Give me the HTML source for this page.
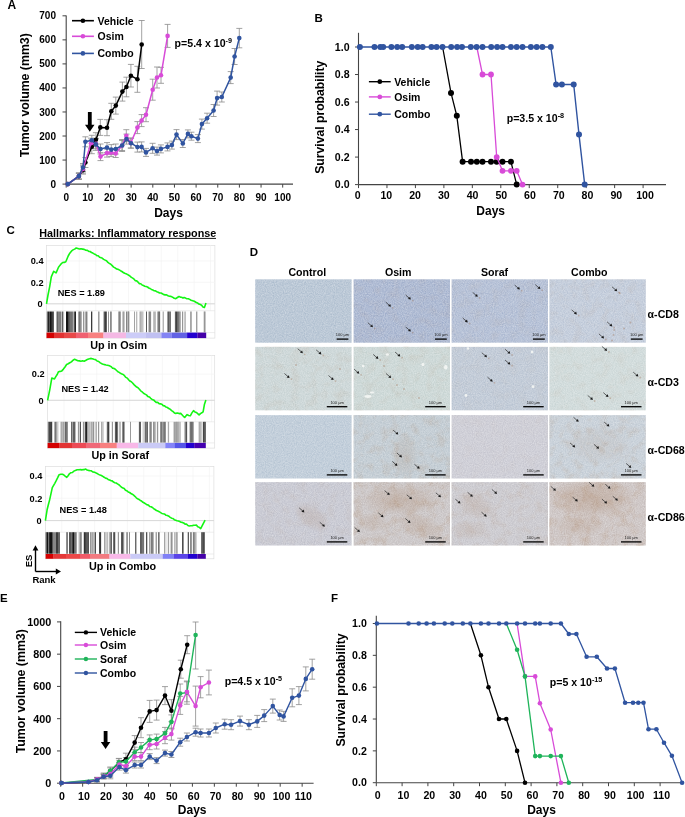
<!DOCTYPE html>
<html><head><meta charset="utf-8"><style>
html,body{margin:0;padding:0;background:#fff;}
svg{display:block;font-family:"Liberation Sans", sans-serif;}
</style></head><body>
<svg width="685" height="817" viewBox="0 0 685 817">
<defs>
<filter id="grain" x="0" y="0" width="100%" height="100%" color-interpolation-filters="sRGB">
<feTurbulence type="fractalNoise" baseFrequency="0.9" numOctaves="2" seed="3"/>
<feColorMatrix type="matrix" values="1 0 0 0 0  1 0 0 0 0  1 0 0 0 0  0 0 0 0 1"/>
</filter>
<filter id="blotch00" x="0" y="0" width="100%" height="100%" color-interpolation-filters="sRGB">
<feTurbulence type="fractalNoise" baseFrequency="0.11" numOctaves="3" seed="7"/>
<feColorMatrix type="matrix" values="0 0 0 0 0.68  0 0 0 0 0.52  0 0 0 0 0.38  1.6 0 0 0 -0.72"/>
</filter>
<filter id="blotch01" x="0" y="0" width="100%" height="100%" color-interpolation-filters="sRGB">
<feTurbulence type="fractalNoise" baseFrequency="0.11" numOctaves="3" seed="8"/>
<feColorMatrix type="matrix" values="0 0 0 0 0.68  0 0 0 0 0.52  0 0 0 0 0.38  1.6 0 0 0 -0.72"/>
</filter>
<filter id="blotch02" x="0" y="0" width="100%" height="100%" color-interpolation-filters="sRGB">
<feTurbulence type="fractalNoise" baseFrequency="0.11" numOctaves="3" seed="9"/>
<feColorMatrix type="matrix" values="0 0 0 0 0.68  0 0 0 0 0.52  0 0 0 0 0.38  1.6 0 0 0 -0.72"/>
</filter>
<filter id="blotch03" x="0" y="0" width="100%" height="100%" color-interpolation-filters="sRGB">
<feTurbulence type="fractalNoise" baseFrequency="0.11" numOctaves="3" seed="10"/>
<feColorMatrix type="matrix" values="0 0 0 0 0.68  0 0 0 0 0.52  0 0 0 0 0.38  1.6 0 0 0 -0.72"/>
</filter>
<filter id="blotch10" x="0" y="0" width="100%" height="100%" color-interpolation-filters="sRGB">
<feTurbulence type="fractalNoise" baseFrequency="0.11" numOctaves="3" seed="11"/>
<feColorMatrix type="matrix" values="0 0 0 0 0.68  0 0 0 0 0.52  0 0 0 0 0.38  1.6 0 0 0 -0.72"/>
</filter>
<filter id="blotch11" x="0" y="0" width="100%" height="100%" color-interpolation-filters="sRGB">
<feTurbulence type="fractalNoise" baseFrequency="0.11" numOctaves="3" seed="12"/>
<feColorMatrix type="matrix" values="0 0 0 0 0.68  0 0 0 0 0.52  0 0 0 0 0.38  1.6 0 0 0 -0.72"/>
</filter>
<filter id="blotch12" x="0" y="0" width="100%" height="100%" color-interpolation-filters="sRGB">
<feTurbulence type="fractalNoise" baseFrequency="0.11" numOctaves="3" seed="13"/>
<feColorMatrix type="matrix" values="0 0 0 0 0.68  0 0 0 0 0.52  0 0 0 0 0.38  1.6 0 0 0 -0.72"/>
</filter>
<filter id="blotch13" x="0" y="0" width="100%" height="100%" color-interpolation-filters="sRGB">
<feTurbulence type="fractalNoise" baseFrequency="0.11" numOctaves="3" seed="14"/>
<feColorMatrix type="matrix" values="0 0 0 0 0.68  0 0 0 0 0.52  0 0 0 0 0.38  1.6 0 0 0 -0.72"/>
</filter>
<filter id="blotch20" x="0" y="0" width="100%" height="100%" color-interpolation-filters="sRGB">
<feTurbulence type="fractalNoise" baseFrequency="0.11" numOctaves="3" seed="15"/>
<feColorMatrix type="matrix" values="0 0 0 0 0.68  0 0 0 0 0.52  0 0 0 0 0.38  1.6 0 0 0 -0.72"/>
</filter>
<filter id="blotch21" x="0" y="0" width="100%" height="100%" color-interpolation-filters="sRGB">
<feTurbulence type="fractalNoise" baseFrequency="0.11" numOctaves="3" seed="16"/>
<feColorMatrix type="matrix" values="0 0 0 0 0.68  0 0 0 0 0.52  0 0 0 0 0.38  1.6 0 0 0 -0.72"/>
</filter>
<filter id="blotch22" x="0" y="0" width="100%" height="100%" color-interpolation-filters="sRGB">
<feTurbulence type="fractalNoise" baseFrequency="0.11" numOctaves="3" seed="17"/>
<feColorMatrix type="matrix" values="0 0 0 0 0.68  0 0 0 0 0.52  0 0 0 0 0.38  1.6 0 0 0 -0.72"/>
</filter>
<filter id="blotch23" x="0" y="0" width="100%" height="100%" color-interpolation-filters="sRGB">
<feTurbulence type="fractalNoise" baseFrequency="0.11" numOctaves="3" seed="18"/>
<feColorMatrix type="matrix" values="0 0 0 0 0.68  0 0 0 0 0.52  0 0 0 0 0.38  1.6 0 0 0 -0.72"/>
</filter>
<filter id="blotch30" x="0" y="0" width="100%" height="100%" color-interpolation-filters="sRGB">
<feTurbulence type="fractalNoise" baseFrequency="0.11" numOctaves="3" seed="19"/>
<feColorMatrix type="matrix" values="0 0 0 0 0.68  0 0 0 0 0.52  0 0 0 0 0.38  1.6 0 0 0 -0.72"/>
</filter>
<filter id="blotch31" x="0" y="0" width="100%" height="100%" color-interpolation-filters="sRGB">
<feTurbulence type="fractalNoise" baseFrequency="0.11" numOctaves="3" seed="20"/>
<feColorMatrix type="matrix" values="0 0 0 0 0.68  0 0 0 0 0.52  0 0 0 0 0.38  1.6 0 0 0 -0.72"/>
</filter>
<filter id="blotch32" x="0" y="0" width="100%" height="100%" color-interpolation-filters="sRGB">
<feTurbulence type="fractalNoise" baseFrequency="0.11" numOctaves="3" seed="21"/>
<feColorMatrix type="matrix" values="0 0 0 0 0.68  0 0 0 0 0.52  0 0 0 0 0.38  1.6 0 0 0 -0.72"/>
</filter>
<filter id="blotch33" x="0" y="0" width="100%" height="100%" color-interpolation-filters="sRGB">
<feTurbulence type="fractalNoise" baseFrequency="0.11" numOctaves="3" seed="22"/>
<feColorMatrix type="matrix" values="0 0 0 0 0.68  0 0 0 0 0.52  0 0 0 0 0.38  1.6 0 0 0 -0.72"/>
</filter>
<radialGradient id="brownrg"><stop offset="0" stop-color="#a0704a" stop-opacity="1"/><stop offset="0.6" stop-color="#a0704a" stop-opacity="0.6"/><stop offset="1" stop-color="#a0704a" stop-opacity="0"/></radialGradient>
</defs>
<rect width="685" height="817" fill="#fff"/>
<text x="7.6" y="8.8" font-size="12" text-anchor="start" font-weight="bold" fill="#000" >A</text>
<line x1="66.20" y1="15.50" x2="66.20" y2="184.10" stroke="#444" stroke-width="1.1" />
<line x1="66.20" y1="184.10" x2="293.00" y2="184.10" stroke="#444" stroke-width="1.1" />
<line x1="62.50" y1="184.10" x2="66.20" y2="184.10" stroke="#444" stroke-width="1" />
<text x="56.0" y="187.6" font-size="10" text-anchor="end" font-weight="bold" fill="#000" >0</text>
<line x1="62.50" y1="160.06" x2="66.20" y2="160.06" stroke="#444" stroke-width="1" />
<text x="56.0" y="163.6" font-size="10" text-anchor="end" font-weight="bold" fill="#000" >100</text>
<line x1="62.50" y1="136.02" x2="66.20" y2="136.02" stroke="#444" stroke-width="1" />
<text x="56.0" y="139.5" font-size="10" text-anchor="end" font-weight="bold" fill="#000" >200</text>
<line x1="62.50" y1="111.98" x2="66.20" y2="111.98" stroke="#444" stroke-width="1" />
<text x="56.0" y="115.5" font-size="10" text-anchor="end" font-weight="bold" fill="#000" >300</text>
<line x1="62.50" y1="87.94" x2="66.20" y2="87.94" stroke="#444" stroke-width="1" />
<text x="56.0" y="91.4" font-size="10" text-anchor="end" font-weight="bold" fill="#000" >400</text>
<line x1="62.50" y1="63.90" x2="66.20" y2="63.90" stroke="#444" stroke-width="1" />
<text x="56.0" y="67.4" font-size="10" text-anchor="end" font-weight="bold" fill="#000" >500</text>
<line x1="62.50" y1="39.86" x2="66.20" y2="39.86" stroke="#444" stroke-width="1" />
<text x="56.0" y="43.4" font-size="10" text-anchor="end" font-weight="bold" fill="#000" >600</text>
<line x1="62.50" y1="15.82" x2="66.20" y2="15.82" stroke="#444" stroke-width="1" />
<text x="56.0" y="19.3" font-size="10" text-anchor="end" font-weight="bold" fill="#000" >700</text>
<line x1="66.20" y1="184.10" x2="66.20" y2="187.60" stroke="#444" stroke-width="1" />
<text x="66.2" y="201.0" font-size="10" text-anchor="middle" font-weight="bold" fill="#000" >0</text>
<line x1="87.85" y1="184.10" x2="87.85" y2="187.60" stroke="#444" stroke-width="1" />
<text x="87.8" y="201.0" font-size="10" text-anchor="middle" font-weight="bold" fill="#000" >10</text>
<line x1="109.50" y1="184.10" x2="109.50" y2="187.60" stroke="#444" stroke-width="1" />
<text x="109.5" y="201.0" font-size="10" text-anchor="middle" font-weight="bold" fill="#000" >20</text>
<line x1="131.15" y1="184.10" x2="131.15" y2="187.60" stroke="#444" stroke-width="1" />
<text x="131.2" y="201.0" font-size="10" text-anchor="middle" font-weight="bold" fill="#000" >30</text>
<line x1="152.80" y1="184.10" x2="152.80" y2="187.60" stroke="#444" stroke-width="1" />
<text x="152.8" y="201.0" font-size="10" text-anchor="middle" font-weight="bold" fill="#000" >40</text>
<line x1="174.45" y1="184.10" x2="174.45" y2="187.60" stroke="#444" stroke-width="1" />
<text x="174.4" y="201.0" font-size="10" text-anchor="middle" font-weight="bold" fill="#000" >50</text>
<line x1="196.10" y1="184.10" x2="196.10" y2="187.60" stroke="#444" stroke-width="1" />
<text x="196.1" y="201.0" font-size="10" text-anchor="middle" font-weight="bold" fill="#000" >60</text>
<line x1="217.75" y1="184.10" x2="217.75" y2="187.60" stroke="#444" stroke-width="1" />
<text x="217.8" y="201.0" font-size="10" text-anchor="middle" font-weight="bold" fill="#000" >70</text>
<line x1="239.40" y1="184.10" x2="239.40" y2="187.60" stroke="#444" stroke-width="1" />
<text x="239.4" y="201.0" font-size="10" text-anchor="middle" font-weight="bold" fill="#000" >80</text>
<line x1="261.05" y1="184.10" x2="261.05" y2="187.60" stroke="#444" stroke-width="1" />
<text x="261.1" y="201.0" font-size="10" text-anchor="middle" font-weight="bold" fill="#000" >90</text>
<line x1="282.70" y1="184.10" x2="282.70" y2="187.60" stroke="#444" stroke-width="1" />
<text x="282.7" y="201.0" font-size="10" text-anchor="middle" font-weight="bold" fill="#000" >100</text>
<text x="168.5" y="216.5" font-size="12" text-anchor="middle" font-weight="bold" fill="#000" >Days</text>
<text transform="translate(28.9,95.3) rotate(-90)" font-size="12.3" font-weight="bold" text-anchor="middle">Tumor volume (mm3)</text>
<path d="M87.9,112.0 L91.7,112.0 L91.7,124.7 L94.5,124.7 L89.8,131.7 L85.0,124.7 L87.9,124.7 Z" fill="#000"/>
<line x1="78.90" y1="173.10" x2="78.90" y2="179.10" stroke="#8a8a8a" stroke-width="0.8" />
<line x1="75.90" y1="173.10" x2="81.90" y2="173.10" stroke="#8a8a8a" stroke-width="0.8" />
<line x1="75.90" y1="179.10" x2="81.90" y2="179.10" stroke="#8a8a8a" stroke-width="0.8" />
<line x1="83.00" y1="166.10" x2="83.00" y2="174.10" stroke="#8a8a8a" stroke-width="0.8" />
<line x1="80.00" y1="166.10" x2="86.00" y2="166.10" stroke="#8a8a8a" stroke-width="0.8" />
<line x1="80.00" y1="174.10" x2="86.00" y2="174.10" stroke="#8a8a8a" stroke-width="0.8" />
<line x1="85.40" y1="157.50" x2="85.40" y2="167.50" stroke="#8a8a8a" stroke-width="0.8" />
<line x1="82.40" y1="157.50" x2="88.40" y2="157.50" stroke="#8a8a8a" stroke-width="0.8" />
<line x1="82.40" y1="167.50" x2="88.40" y2="167.50" stroke="#8a8a8a" stroke-width="0.8" />
<line x1="91.80" y1="139.70" x2="91.80" y2="153.70" stroke="#8a8a8a" stroke-width="0.8" />
<line x1="88.80" y1="139.70" x2="94.80" y2="139.70" stroke="#8a8a8a" stroke-width="0.8" />
<line x1="88.80" y1="153.70" x2="94.80" y2="153.70" stroke="#8a8a8a" stroke-width="0.8" />
<line x1="95.90" y1="132.70" x2="95.90" y2="146.70" stroke="#8a8a8a" stroke-width="0.8" />
<line x1="92.90" y1="132.70" x2="98.90" y2="132.70" stroke="#8a8a8a" stroke-width="0.8" />
<line x1="92.90" y1="146.70" x2="98.90" y2="146.70" stroke="#8a8a8a" stroke-width="0.8" />
<line x1="100.30" y1="119.40" x2="100.30" y2="135.40" stroke="#8a8a8a" stroke-width="0.8" />
<line x1="97.30" y1="119.40" x2="103.30" y2="119.40" stroke="#8a8a8a" stroke-width="0.8" />
<line x1="97.30" y1="135.40" x2="103.30" y2="135.40" stroke="#8a8a8a" stroke-width="0.8" />
<line x1="107.00" y1="119.70" x2="107.00" y2="135.70" stroke="#8a8a8a" stroke-width="0.8" />
<line x1="104.00" y1="119.70" x2="110.00" y2="119.70" stroke="#8a8a8a" stroke-width="0.8" />
<line x1="104.00" y1="135.70" x2="110.00" y2="135.70" stroke="#8a8a8a" stroke-width="0.8" />
<line x1="111.30" y1="103.30" x2="111.30" y2="119.30" stroke="#8a8a8a" stroke-width="0.8" />
<line x1="108.30" y1="103.30" x2="114.30" y2="103.30" stroke="#8a8a8a" stroke-width="0.8" />
<line x1="108.30" y1="119.30" x2="114.30" y2="119.30" stroke="#8a8a8a" stroke-width="0.8" />
<line x1="115.80" y1="97.10" x2="115.80" y2="114.10" stroke="#8a8a8a" stroke-width="0.8" />
<line x1="112.80" y1="97.10" x2="118.80" y2="97.10" stroke="#8a8a8a" stroke-width="0.8" />
<line x1="112.80" y1="114.10" x2="118.80" y2="114.10" stroke="#8a8a8a" stroke-width="0.8" />
<line x1="122.40" y1="82.10" x2="122.40" y2="101.10" stroke="#8a8a8a" stroke-width="0.8" />
<line x1="119.40" y1="82.10" x2="125.40" y2="82.10" stroke="#8a8a8a" stroke-width="0.8" />
<line x1="119.40" y1="101.10" x2="125.40" y2="101.10" stroke="#8a8a8a" stroke-width="0.8" />
<line x1="126.40" y1="77.20" x2="126.40" y2="96.80" stroke="#8a8a8a" stroke-width="0.8" />
<line x1="123.40" y1="77.20" x2="129.40" y2="77.20" stroke="#8a8a8a" stroke-width="0.8" />
<line x1="123.40" y1="96.80" x2="129.40" y2="96.80" stroke="#8a8a8a" stroke-width="0.8" />
<line x1="130.90" y1="64.40" x2="130.90" y2="87.00" stroke="#8a8a8a" stroke-width="0.8" />
<line x1="127.90" y1="64.40" x2="133.90" y2="64.40" stroke="#8a8a8a" stroke-width="0.8" />
<line x1="127.90" y1="87.00" x2="133.90" y2="87.00" stroke="#8a8a8a" stroke-width="0.8" />
<line x1="137.40" y1="66.30" x2="137.40" y2="92.30" stroke="#8a8a8a" stroke-width="0.8" />
<line x1="134.40" y1="66.30" x2="140.40" y2="66.30" stroke="#8a8a8a" stroke-width="0.8" />
<line x1="134.40" y1="92.30" x2="140.40" y2="92.30" stroke="#8a8a8a" stroke-width="0.8" />
<line x1="141.70" y1="20.50" x2="141.70" y2="68.50" stroke="#8a8a8a" stroke-width="0.8" />
<line x1="138.70" y1="20.50" x2="144.70" y2="20.50" stroke="#8a8a8a" stroke-width="0.8" />
<line x1="138.70" y1="68.50" x2="144.70" y2="68.50" stroke="#8a8a8a" stroke-width="0.8" />
<line x1="78.90" y1="173.10" x2="78.90" y2="179.10" stroke="#8a8a8a" stroke-width="0.8" />
<line x1="75.90" y1="173.10" x2="81.90" y2="173.10" stroke="#8a8a8a" stroke-width="0.8" />
<line x1="75.90" y1="179.10" x2="81.90" y2="179.10" stroke="#8a8a8a" stroke-width="0.8" />
<line x1="83.00" y1="165.00" x2="83.00" y2="173.00" stroke="#8a8a8a" stroke-width="0.8" />
<line x1="80.00" y1="165.00" x2="86.00" y2="165.00" stroke="#8a8a8a" stroke-width="0.8" />
<line x1="80.00" y1="173.00" x2="86.00" y2="173.00" stroke="#8a8a8a" stroke-width="0.8" />
<line x1="91.00" y1="138.20" x2="91.00" y2="148.20" stroke="#8a8a8a" stroke-width="0.8" />
<line x1="88.00" y1="138.20" x2="94.00" y2="138.20" stroke="#8a8a8a" stroke-width="0.8" />
<line x1="88.00" y1="148.20" x2="94.00" y2="148.20" stroke="#8a8a8a" stroke-width="0.8" />
<line x1="95.90" y1="138.80" x2="95.90" y2="148.80" stroke="#8a8a8a" stroke-width="0.8" />
<line x1="92.90" y1="138.80" x2="98.90" y2="138.80" stroke="#8a8a8a" stroke-width="0.8" />
<line x1="92.90" y1="148.80" x2="98.90" y2="148.80" stroke="#8a8a8a" stroke-width="0.8" />
<line x1="100.50" y1="152.60" x2="100.50" y2="160.60" stroke="#8a8a8a" stroke-width="0.8" />
<line x1="97.50" y1="152.60" x2="103.50" y2="152.60" stroke="#8a8a8a" stroke-width="0.8" />
<line x1="97.50" y1="160.60" x2="103.50" y2="160.60" stroke="#8a8a8a" stroke-width="0.8" />
<line x1="107.00" y1="149.10" x2="107.00" y2="157.10" stroke="#8a8a8a" stroke-width="0.8" />
<line x1="104.00" y1="149.10" x2="110.00" y2="149.10" stroke="#8a8a8a" stroke-width="0.8" />
<line x1="104.00" y1="157.10" x2="110.00" y2="157.10" stroke="#8a8a8a" stroke-width="0.8" />
<line x1="111.10" y1="148.60" x2="111.10" y2="156.60" stroke="#8a8a8a" stroke-width="0.8" />
<line x1="108.10" y1="148.60" x2="114.10" y2="148.60" stroke="#8a8a8a" stroke-width="0.8" />
<line x1="108.10" y1="156.60" x2="114.10" y2="156.60" stroke="#8a8a8a" stroke-width="0.8" />
<line x1="115.70" y1="149.50" x2="115.70" y2="157.50" stroke="#8a8a8a" stroke-width="0.8" />
<line x1="112.70" y1="149.50" x2="118.70" y2="149.50" stroke="#8a8a8a" stroke-width="0.8" />
<line x1="112.70" y1="157.50" x2="118.70" y2="157.50" stroke="#8a8a8a" stroke-width="0.8" />
<line x1="122.10" y1="140.50" x2="122.10" y2="150.50" stroke="#8a8a8a" stroke-width="0.8" />
<line x1="119.10" y1="140.50" x2="125.10" y2="140.50" stroke="#8a8a8a" stroke-width="0.8" />
<line x1="119.10" y1="150.50" x2="125.10" y2="150.50" stroke="#8a8a8a" stroke-width="0.8" />
<line x1="126.30" y1="129.70" x2="126.30" y2="141.70" stroke="#8a8a8a" stroke-width="0.8" />
<line x1="123.30" y1="129.70" x2="129.30" y2="129.70" stroke="#8a8a8a" stroke-width="0.8" />
<line x1="123.30" y1="141.70" x2="129.30" y2="141.70" stroke="#8a8a8a" stroke-width="0.8" />
<line x1="130.70" y1="138.00" x2="130.70" y2="148.00" stroke="#8a8a8a" stroke-width="0.8" />
<line x1="127.70" y1="138.00" x2="133.70" y2="138.00" stroke="#8a8a8a" stroke-width="0.8" />
<line x1="127.70" y1="148.00" x2="133.70" y2="148.00" stroke="#8a8a8a" stroke-width="0.8" />
<line x1="137.40" y1="121.60" x2="137.40" y2="133.60" stroke="#8a8a8a" stroke-width="0.8" />
<line x1="134.40" y1="121.60" x2="140.40" y2="121.60" stroke="#8a8a8a" stroke-width="0.8" />
<line x1="134.40" y1="133.60" x2="140.40" y2="133.60" stroke="#8a8a8a" stroke-width="0.8" />
<line x1="141.60" y1="114.60" x2="141.60" y2="126.60" stroke="#8a8a8a" stroke-width="0.8" />
<line x1="138.60" y1="114.60" x2="144.60" y2="114.60" stroke="#8a8a8a" stroke-width="0.8" />
<line x1="138.60" y1="126.60" x2="144.60" y2="126.60" stroke="#8a8a8a" stroke-width="0.8" />
<line x1="146.00" y1="107.70" x2="146.00" y2="121.70" stroke="#8a8a8a" stroke-width="0.8" />
<line x1="143.00" y1="107.70" x2="149.00" y2="107.70" stroke="#8a8a8a" stroke-width="0.8" />
<line x1="143.00" y1="121.70" x2="149.00" y2="121.70" stroke="#8a8a8a" stroke-width="0.8" />
<line x1="152.70" y1="79.20" x2="152.70" y2="100.20" stroke="#8a8a8a" stroke-width="0.8" />
<line x1="149.70" y1="79.20" x2="155.70" y2="79.20" stroke="#8a8a8a" stroke-width="0.8" />
<line x1="149.70" y1="100.20" x2="155.70" y2="100.20" stroke="#8a8a8a" stroke-width="0.8" />
<line x1="157.00" y1="67.00" x2="157.00" y2="88.00" stroke="#8a8a8a" stroke-width="0.8" />
<line x1="154.00" y1="67.00" x2="160.00" y2="67.00" stroke="#8a8a8a" stroke-width="0.8" />
<line x1="154.00" y1="88.00" x2="160.00" y2="88.00" stroke="#8a8a8a" stroke-width="0.8" />
<line x1="161.00" y1="67.30" x2="161.00" y2="83.30" stroke="#8a8a8a" stroke-width="0.8" />
<line x1="158.00" y1="67.30" x2="164.00" y2="67.30" stroke="#8a8a8a" stroke-width="0.8" />
<line x1="158.00" y1="83.30" x2="164.00" y2="83.30" stroke="#8a8a8a" stroke-width="0.8" />
<line x1="167.60" y1="24.40" x2="167.60" y2="47.40" stroke="#8a8a8a" stroke-width="0.8" />
<line x1="164.60" y1="24.40" x2="170.60" y2="24.40" stroke="#8a8a8a" stroke-width="0.8" />
<line x1="164.60" y1="47.40" x2="170.60" y2="47.40" stroke="#8a8a8a" stroke-width="0.8" />
<line x1="78.90" y1="173.10" x2="78.90" y2="179.10" stroke="#8a8a8a" stroke-width="0.8" />
<line x1="75.90" y1="173.10" x2="81.90" y2="173.10" stroke="#8a8a8a" stroke-width="0.8" />
<line x1="75.90" y1="179.10" x2="81.90" y2="179.10" stroke="#8a8a8a" stroke-width="0.8" />
<line x1="83.00" y1="163.50" x2="83.00" y2="171.50" stroke="#8a8a8a" stroke-width="0.8" />
<line x1="80.00" y1="163.50" x2="86.00" y2="163.50" stroke="#8a8a8a" stroke-width="0.8" />
<line x1="80.00" y1="171.50" x2="86.00" y2="171.50" stroke="#8a8a8a" stroke-width="0.8" />
<line x1="85.40" y1="136.80" x2="85.40" y2="146.80" stroke="#8a8a8a" stroke-width="0.8" />
<line x1="82.40" y1="136.80" x2="88.40" y2="136.80" stroke="#8a8a8a" stroke-width="0.8" />
<line x1="82.40" y1="146.80" x2="88.40" y2="146.80" stroke="#8a8a8a" stroke-width="0.8" />
<line x1="91.80" y1="135.30" x2="91.80" y2="145.30" stroke="#8a8a8a" stroke-width="0.8" />
<line x1="88.80" y1="135.30" x2="94.80" y2="135.30" stroke="#8a8a8a" stroke-width="0.8" />
<line x1="88.80" y1="145.30" x2="94.80" y2="145.30" stroke="#8a8a8a" stroke-width="0.8" />
<line x1="95.90" y1="138.40" x2="95.90" y2="150.40" stroke="#8a8a8a" stroke-width="0.8" />
<line x1="92.90" y1="138.40" x2="98.90" y2="138.40" stroke="#8a8a8a" stroke-width="0.8" />
<line x1="92.90" y1="150.40" x2="98.90" y2="150.40" stroke="#8a8a8a" stroke-width="0.8" />
<line x1="100.50" y1="144.00" x2="100.50" y2="154.00" stroke="#8a8a8a" stroke-width="0.8" />
<line x1="97.50" y1="144.00" x2="103.50" y2="144.00" stroke="#8a8a8a" stroke-width="0.8" />
<line x1="97.50" y1="154.00" x2="103.50" y2="154.00" stroke="#8a8a8a" stroke-width="0.8" />
<line x1="107.00" y1="142.60" x2="107.00" y2="152.60" stroke="#8a8a8a" stroke-width="0.8" />
<line x1="104.00" y1="142.60" x2="110.00" y2="142.60" stroke="#8a8a8a" stroke-width="0.8" />
<line x1="104.00" y1="152.60" x2="110.00" y2="152.60" stroke="#8a8a8a" stroke-width="0.8" />
<line x1="111.30" y1="144.60" x2="111.30" y2="154.60" stroke="#8a8a8a" stroke-width="0.8" />
<line x1="108.30" y1="144.60" x2="114.30" y2="144.60" stroke="#8a8a8a" stroke-width="0.8" />
<line x1="108.30" y1="154.60" x2="114.30" y2="154.60" stroke="#8a8a8a" stroke-width="0.8" />
<line x1="115.70" y1="144.00" x2="115.70" y2="154.00" stroke="#8a8a8a" stroke-width="0.8" />
<line x1="112.70" y1="144.00" x2="118.70" y2="144.00" stroke="#8a8a8a" stroke-width="0.8" />
<line x1="112.70" y1="154.00" x2="118.70" y2="154.00" stroke="#8a8a8a" stroke-width="0.8" />
<line x1="122.10" y1="139.50" x2="122.10" y2="151.50" stroke="#8a8a8a" stroke-width="0.8" />
<line x1="119.10" y1="139.50" x2="125.10" y2="139.50" stroke="#8a8a8a" stroke-width="0.8" />
<line x1="119.10" y1="151.50" x2="125.10" y2="151.50" stroke="#8a8a8a" stroke-width="0.8" />
<line x1="126.50" y1="134.10" x2="126.50" y2="144.10" stroke="#8a8a8a" stroke-width="0.8" />
<line x1="123.50" y1="134.10" x2="129.50" y2="134.10" stroke="#8a8a8a" stroke-width="0.8" />
<line x1="123.50" y1="144.10" x2="129.50" y2="144.10" stroke="#8a8a8a" stroke-width="0.8" />
<line x1="131.10" y1="138.20" x2="131.10" y2="148.20" stroke="#8a8a8a" stroke-width="0.8" />
<line x1="128.10" y1="138.20" x2="134.10" y2="138.20" stroke="#8a8a8a" stroke-width="0.8" />
<line x1="128.10" y1="148.20" x2="134.10" y2="148.20" stroke="#8a8a8a" stroke-width="0.8" />
<line x1="137.40" y1="142.10" x2="137.40" y2="152.10" stroke="#8a8a8a" stroke-width="0.8" />
<line x1="134.40" y1="142.10" x2="140.40" y2="142.10" stroke="#8a8a8a" stroke-width="0.8" />
<line x1="134.40" y1="152.10" x2="140.40" y2="152.10" stroke="#8a8a8a" stroke-width="0.8" />
<line x1="141.60" y1="141.90" x2="141.60" y2="151.90" stroke="#8a8a8a" stroke-width="0.8" />
<line x1="138.60" y1="141.90" x2="144.60" y2="141.90" stroke="#8a8a8a" stroke-width="0.8" />
<line x1="138.60" y1="151.90" x2="144.60" y2="151.90" stroke="#8a8a8a" stroke-width="0.8" />
<line x1="146.00" y1="148.40" x2="146.00" y2="156.40" stroke="#8a8a8a" stroke-width="0.8" />
<line x1="143.00" y1="148.40" x2="149.00" y2="148.40" stroke="#8a8a8a" stroke-width="0.8" />
<line x1="143.00" y1="156.40" x2="149.00" y2="156.40" stroke="#8a8a8a" stroke-width="0.8" />
<line x1="152.60" y1="143.30" x2="152.60" y2="153.30" stroke="#8a8a8a" stroke-width="0.8" />
<line x1="149.60" y1="143.30" x2="155.60" y2="143.30" stroke="#8a8a8a" stroke-width="0.8" />
<line x1="149.60" y1="153.30" x2="155.60" y2="153.30" stroke="#8a8a8a" stroke-width="0.8" />
<line x1="157.00" y1="147.10" x2="157.00" y2="155.10" stroke="#8a8a8a" stroke-width="0.8" />
<line x1="154.00" y1="147.10" x2="160.00" y2="147.10" stroke="#8a8a8a" stroke-width="0.8" />
<line x1="154.00" y1="155.10" x2="160.00" y2="155.10" stroke="#8a8a8a" stroke-width="0.8" />
<line x1="160.90" y1="144.90" x2="160.90" y2="152.90" stroke="#8a8a8a" stroke-width="0.8" />
<line x1="157.90" y1="144.90" x2="163.90" y2="144.90" stroke="#8a8a8a" stroke-width="0.8" />
<line x1="157.90" y1="152.90" x2="163.90" y2="152.90" stroke="#8a8a8a" stroke-width="0.8" />
<line x1="167.50" y1="142.90" x2="167.50" y2="150.90" stroke="#8a8a8a" stroke-width="0.8" />
<line x1="164.50" y1="142.90" x2="170.50" y2="142.90" stroke="#8a8a8a" stroke-width="0.8" />
<line x1="164.50" y1="150.90" x2="170.50" y2="150.90" stroke="#8a8a8a" stroke-width="0.8" />
<line x1="171.90" y1="141.10" x2="171.90" y2="149.10" stroke="#8a8a8a" stroke-width="0.8" />
<line x1="168.90" y1="141.10" x2="174.90" y2="141.10" stroke="#8a8a8a" stroke-width="0.8" />
<line x1="168.90" y1="149.10" x2="174.90" y2="149.10" stroke="#8a8a8a" stroke-width="0.8" />
<line x1="176.50" y1="129.60" x2="176.50" y2="139.60" stroke="#8a8a8a" stroke-width="0.8" />
<line x1="173.50" y1="129.60" x2="179.50" y2="129.60" stroke="#8a8a8a" stroke-width="0.8" />
<line x1="173.50" y1="139.60" x2="179.50" y2="139.60" stroke="#8a8a8a" stroke-width="0.8" />
<line x1="182.80" y1="139.50" x2="182.80" y2="147.50" stroke="#8a8a8a" stroke-width="0.8" />
<line x1="179.80" y1="139.50" x2="185.80" y2="139.50" stroke="#8a8a8a" stroke-width="0.8" />
<line x1="179.80" y1="147.50" x2="185.80" y2="147.50" stroke="#8a8a8a" stroke-width="0.8" />
<line x1="187.90" y1="129.90" x2="187.90" y2="137.90" stroke="#8a8a8a" stroke-width="0.8" />
<line x1="184.90" y1="129.90" x2="190.90" y2="129.90" stroke="#8a8a8a" stroke-width="0.8" />
<line x1="184.90" y1="137.90" x2="190.90" y2="137.90" stroke="#8a8a8a" stroke-width="0.8" />
<line x1="191.40" y1="132.20" x2="191.40" y2="140.20" stroke="#8a8a8a" stroke-width="0.8" />
<line x1="188.40" y1="132.20" x2="194.40" y2="132.20" stroke="#8a8a8a" stroke-width="0.8" />
<line x1="188.40" y1="140.20" x2="194.40" y2="140.20" stroke="#8a8a8a" stroke-width="0.8" />
<line x1="197.90" y1="134.60" x2="197.90" y2="142.60" stroke="#8a8a8a" stroke-width="0.8" />
<line x1="194.90" y1="134.60" x2="200.90" y2="134.60" stroke="#8a8a8a" stroke-width="0.8" />
<line x1="194.90" y1="142.60" x2="200.90" y2="142.60" stroke="#8a8a8a" stroke-width="0.8" />
<line x1="201.90" y1="119.10" x2="201.90" y2="129.10" stroke="#8a8a8a" stroke-width="0.8" />
<line x1="198.90" y1="119.10" x2="204.90" y2="119.10" stroke="#8a8a8a" stroke-width="0.8" />
<line x1="198.90" y1="129.10" x2="204.90" y2="129.10" stroke="#8a8a8a" stroke-width="0.8" />
<line x1="207.10" y1="113.20" x2="207.10" y2="123.20" stroke="#8a8a8a" stroke-width="0.8" />
<line x1="204.10" y1="113.20" x2="210.10" y2="113.20" stroke="#8a8a8a" stroke-width="0.8" />
<line x1="204.10" y1="123.20" x2="210.10" y2="123.20" stroke="#8a8a8a" stroke-width="0.8" />
<line x1="213.60" y1="104.50" x2="213.60" y2="116.50" stroke="#8a8a8a" stroke-width="0.8" />
<line x1="210.60" y1="104.50" x2="216.60" y2="104.50" stroke="#8a8a8a" stroke-width="0.8" />
<line x1="210.60" y1="116.50" x2="216.60" y2="116.50" stroke="#8a8a8a" stroke-width="0.8" />
<line x1="217.10" y1="91.10" x2="217.10" y2="105.10" stroke="#8a8a8a" stroke-width="0.8" />
<line x1="214.10" y1="91.10" x2="220.10" y2="91.10" stroke="#8a8a8a" stroke-width="0.8" />
<line x1="214.10" y1="105.10" x2="220.10" y2="105.10" stroke="#8a8a8a" stroke-width="0.8" />
<line x1="221.80" y1="92.00" x2="221.80" y2="102.00" stroke="#8a8a8a" stroke-width="0.8" />
<line x1="218.80" y1="92.00" x2="224.80" y2="92.00" stroke="#8a8a8a" stroke-width="0.8" />
<line x1="218.80" y1="102.00" x2="224.80" y2="102.00" stroke="#8a8a8a" stroke-width="0.8" />
<line x1="230.70" y1="71.60" x2="230.70" y2="83.60" stroke="#8a8a8a" stroke-width="0.8" />
<line x1="227.70" y1="71.60" x2="233.70" y2="71.60" stroke="#8a8a8a" stroke-width="0.8" />
<line x1="227.70" y1="83.60" x2="233.70" y2="83.60" stroke="#8a8a8a" stroke-width="0.8" />
<line x1="234.60" y1="48.50" x2="234.60" y2="64.50" stroke="#8a8a8a" stroke-width="0.8" />
<line x1="231.60" y1="48.50" x2="237.60" y2="48.50" stroke="#8a8a8a" stroke-width="0.8" />
<line x1="231.60" y1="64.50" x2="237.60" y2="64.50" stroke="#8a8a8a" stroke-width="0.8" />
<line x1="239.30" y1="28.40" x2="239.30" y2="47.80" stroke="#8a8a8a" stroke-width="0.8" />
<line x1="236.30" y1="28.40" x2="242.30" y2="28.40" stroke="#8a8a8a" stroke-width="0.8" />
<line x1="236.30" y1="47.80" x2="242.30" y2="47.80" stroke="#8a8a8a" stroke-width="0.8" />
<polyline points="67.8,184.1 78.9,176.1 83.0,170.1 85.4,162.5 91.8,146.7 95.9,139.7 100.3,127.4 107.0,127.7 111.3,111.3 115.8,105.6 122.4,91.6 126.4,87.0 130.9,75.7 137.4,79.3 141.7,44.5" fill="none" stroke="#000" stroke-width="1.5" stroke-linejoin="round"/>
<circle cx="67.8" cy="184.1" r="2.3" fill="#000"/>
<circle cx="78.9" cy="176.1" r="2.3" fill="#000"/>
<circle cx="83.0" cy="170.1" r="2.3" fill="#000"/>
<circle cx="85.4" cy="162.5" r="2.3" fill="#000"/>
<circle cx="91.8" cy="146.7" r="2.3" fill="#000"/>
<circle cx="95.9" cy="139.7" r="2.3" fill="#000"/>
<circle cx="100.3" cy="127.4" r="2.3" fill="#000"/>
<circle cx="107.0" cy="127.7" r="2.3" fill="#000"/>
<circle cx="111.3" cy="111.3" r="2.3" fill="#000"/>
<circle cx="115.8" cy="105.6" r="2.3" fill="#000"/>
<circle cx="122.4" cy="91.6" r="2.3" fill="#000"/>
<circle cx="126.4" cy="87.0" r="2.3" fill="#000"/>
<circle cx="130.9" cy="75.7" r="2.3" fill="#000"/>
<circle cx="137.4" cy="79.3" r="2.3" fill="#000"/>
<circle cx="141.7" cy="44.5" r="2.3" fill="#000"/>
<polyline points="67.8,184.1 78.9,176.1 83.0,169.0 91.0,143.2 95.9,143.8 100.5,156.6 107.0,153.1 111.1,152.6 115.7,153.5 122.1,145.5 126.3,135.7 130.7,143.0 137.4,127.6 141.6,120.6 146.0,114.7 152.7,89.7 157.0,77.5 161.0,75.3 167.6,35.9" fill="none" stroke="#d84bd8" stroke-width="1.5" stroke-linejoin="round"/>
<circle cx="67.8" cy="184.1" r="2.3" fill="#d84bd8"/>
<circle cx="78.9" cy="176.1" r="2.3" fill="#d84bd8"/>
<circle cx="83.0" cy="169.0" r="2.3" fill="#d84bd8"/>
<circle cx="91.0" cy="143.2" r="2.3" fill="#d84bd8"/>
<circle cx="95.9" cy="143.8" r="2.3" fill="#d84bd8"/>
<circle cx="100.5" cy="156.6" r="2.3" fill="#d84bd8"/>
<circle cx="107.0" cy="153.1" r="2.3" fill="#d84bd8"/>
<circle cx="111.1" cy="152.6" r="2.3" fill="#d84bd8"/>
<circle cx="115.7" cy="153.5" r="2.3" fill="#d84bd8"/>
<circle cx="122.1" cy="145.5" r="2.3" fill="#d84bd8"/>
<circle cx="126.3" cy="135.7" r="2.3" fill="#d84bd8"/>
<circle cx="130.7" cy="143.0" r="2.3" fill="#d84bd8"/>
<circle cx="137.4" cy="127.6" r="2.3" fill="#d84bd8"/>
<circle cx="141.6" cy="120.6" r="2.3" fill="#d84bd8"/>
<circle cx="146.0" cy="114.7" r="2.3" fill="#d84bd8"/>
<circle cx="152.7" cy="89.7" r="2.3" fill="#d84bd8"/>
<circle cx="157.0" cy="77.5" r="2.3" fill="#d84bd8"/>
<circle cx="161.0" cy="75.3" r="2.3" fill="#d84bd8"/>
<circle cx="167.6" cy="35.9" r="2.3" fill="#d84bd8"/>
<polyline points="67.8,184.1 78.9,176.1 83.0,167.5 85.4,141.8 91.8,140.3 95.9,144.4 100.5,149.0 107.0,147.6 111.3,149.6 115.7,149.0 122.1,145.5 126.5,139.1 131.1,143.2 137.4,147.1 141.6,146.9 146.0,152.4 152.6,148.3 157.0,151.1 160.9,148.9 167.5,146.9 171.9,145.1 176.5,134.6 182.8,143.5 187.9,133.9 191.4,136.2 197.9,138.6 201.9,124.1 207.1,118.2 213.6,110.5 217.1,98.1 221.8,97.0 230.7,77.6 234.6,56.5 239.3,38.1" fill="none" stroke="#3054a0" stroke-width="1.5" stroke-linejoin="round"/>
<circle cx="67.8" cy="184.1" r="2.3" fill="#3054a0"/>
<circle cx="78.9" cy="176.1" r="2.3" fill="#3054a0"/>
<circle cx="83.0" cy="167.5" r="2.3" fill="#3054a0"/>
<circle cx="85.4" cy="141.8" r="2.3" fill="#3054a0"/>
<circle cx="91.8" cy="140.3" r="2.3" fill="#3054a0"/>
<circle cx="95.9" cy="144.4" r="2.3" fill="#3054a0"/>
<circle cx="100.5" cy="149.0" r="2.3" fill="#3054a0"/>
<circle cx="107.0" cy="147.6" r="2.3" fill="#3054a0"/>
<circle cx="111.3" cy="149.6" r="2.3" fill="#3054a0"/>
<circle cx="115.7" cy="149.0" r="2.3" fill="#3054a0"/>
<circle cx="122.1" cy="145.5" r="2.3" fill="#3054a0"/>
<circle cx="126.5" cy="139.1" r="2.3" fill="#3054a0"/>
<circle cx="131.1" cy="143.2" r="2.3" fill="#3054a0"/>
<circle cx="137.4" cy="147.1" r="2.3" fill="#3054a0"/>
<circle cx="141.6" cy="146.9" r="2.3" fill="#3054a0"/>
<circle cx="146.0" cy="152.4" r="2.3" fill="#3054a0"/>
<circle cx="152.6" cy="148.3" r="2.3" fill="#3054a0"/>
<circle cx="157.0" cy="151.1" r="2.3" fill="#3054a0"/>
<circle cx="160.9" cy="148.9" r="2.3" fill="#3054a0"/>
<circle cx="167.5" cy="146.9" r="2.3" fill="#3054a0"/>
<circle cx="171.9" cy="145.1" r="2.3" fill="#3054a0"/>
<circle cx="176.5" cy="134.6" r="2.3" fill="#3054a0"/>
<circle cx="182.8" cy="143.5" r="2.3" fill="#3054a0"/>
<circle cx="187.9" cy="133.9" r="2.3" fill="#3054a0"/>
<circle cx="191.4" cy="136.2" r="2.3" fill="#3054a0"/>
<circle cx="197.9" cy="138.6" r="2.3" fill="#3054a0"/>
<circle cx="201.9" cy="124.1" r="2.3" fill="#3054a0"/>
<circle cx="207.1" cy="118.2" r="2.3" fill="#3054a0"/>
<circle cx="213.6" cy="110.5" r="2.3" fill="#3054a0"/>
<circle cx="217.1" cy="98.1" r="2.3" fill="#3054a0"/>
<circle cx="221.8" cy="97.0" r="2.3" fill="#3054a0"/>
<circle cx="230.7" cy="77.6" r="2.3" fill="#3054a0"/>
<circle cx="234.6" cy="56.5" r="2.3" fill="#3054a0"/>
<circle cx="239.3" cy="38.1" r="2.3" fill="#3054a0"/>
<line x1="72.00" y1="20.70" x2="93.90" y2="20.70" stroke="#000" stroke-width="1.6" />
<circle cx="82.9" cy="20.7" r="2.3" fill="#000"/>
<text x="97.5" y="24.5" font-size="10.5" text-anchor="start" font-weight="bold" fill="#000" >Vehicle</text>
<line x1="72.00" y1="36.30" x2="93.90" y2="36.30" stroke="#d84bd8" stroke-width="1.6" />
<circle cx="82.9" cy="36.3" r="2.3" fill="#d84bd8"/>
<text x="97.5" y="40.1" font-size="10.5" text-anchor="start" font-weight="bold" fill="#000" >Osim</text>
<line x1="72.00" y1="53.40" x2="93.90" y2="53.40" stroke="#3054a0" stroke-width="1.6" />
<circle cx="82.9" cy="53.4" r="2.3" fill="#3054a0"/>
<text x="97.5" y="57.2" font-size="10.5" text-anchor="start" font-weight="bold" fill="#000" >Combo</text>
<text x="174.6" y="46.7" font-size="10.6" font-weight="bold">p=5.4 x 10<tspan font-size="7.2" dy="-4">-9</tspan></text>
<text x="314.6" y="21.9" font-size="11.5" text-anchor="start" font-weight="bold" fill="#000" >B</text>
<line x1="358.50" y1="32.80" x2="358.50" y2="184.60" stroke="#444" stroke-width="1.1" />
<line x1="358.50" y1="184.60" x2="666.00" y2="184.60" stroke="#444" stroke-width="1.1" />
<line x1="355.00" y1="184.60" x2="358.50" y2="184.60" stroke="#444" stroke-width="1" />
<text x="349.6" y="188.4" font-size="10.6" text-anchor="end" font-weight="bold" fill="#000" >0.0</text>
<line x1="355.00" y1="157.08" x2="358.50" y2="157.08" stroke="#444" stroke-width="1" />
<text x="349.6" y="160.9" font-size="10.6" text-anchor="end" font-weight="bold" fill="#000" >0.2</text>
<line x1="355.00" y1="129.56" x2="358.50" y2="129.56" stroke="#444" stroke-width="1" />
<text x="349.6" y="133.4" font-size="10.6" text-anchor="end" font-weight="bold" fill="#000" >0.4</text>
<line x1="355.00" y1="102.04" x2="358.50" y2="102.04" stroke="#444" stroke-width="1" />
<text x="349.6" y="105.8" font-size="10.6" text-anchor="end" font-weight="bold" fill="#000" >0.6</text>
<line x1="355.00" y1="74.52" x2="358.50" y2="74.52" stroke="#444" stroke-width="1" />
<text x="349.6" y="78.3" font-size="10.6" text-anchor="end" font-weight="bold" fill="#000" >0.8</text>
<line x1="355.00" y1="47.00" x2="358.50" y2="47.00" stroke="#444" stroke-width="1" />
<text x="349.6" y="50.8" font-size="10.6" text-anchor="end" font-weight="bold" fill="#000" >1.0</text>
<line x1="358.50" y1="184.60" x2="358.50" y2="188.10" stroke="#444" stroke-width="1" />
<text x="357.6" y="198.9" font-size="10.6" text-anchor="middle" font-weight="bold" fill="#000" >0</text>
<line x1="386.96" y1="184.60" x2="386.96" y2="188.10" stroke="#444" stroke-width="1" />
<text x="386.3" y="198.9" font-size="10.6" text-anchor="middle" font-weight="bold" fill="#000" >10</text>
<line x1="415.42" y1="184.60" x2="415.42" y2="188.10" stroke="#444" stroke-width="1" />
<text x="415.1" y="198.9" font-size="10.6" text-anchor="middle" font-weight="bold" fill="#000" >20</text>
<line x1="443.88" y1="184.60" x2="443.88" y2="188.10" stroke="#444" stroke-width="1" />
<text x="443.8" y="198.9" font-size="10.6" text-anchor="middle" font-weight="bold" fill="#000" >30</text>
<line x1="472.34" y1="184.60" x2="472.34" y2="188.10" stroke="#444" stroke-width="1" />
<text x="472.6" y="198.9" font-size="10.6" text-anchor="middle" font-weight="bold" fill="#000" >40</text>
<line x1="500.80" y1="184.60" x2="500.80" y2="188.10" stroke="#444" stroke-width="1" />
<text x="501.3" y="198.9" font-size="10.6" text-anchor="middle" font-weight="bold" fill="#000" >50</text>
<line x1="529.26" y1="184.60" x2="529.26" y2="188.10" stroke="#444" stroke-width="1" />
<text x="530.0" y="198.9" font-size="10.6" text-anchor="middle" font-weight="bold" fill="#000" >60</text>
<line x1="557.72" y1="184.60" x2="557.72" y2="188.10" stroke="#444" stroke-width="1" />
<text x="558.8" y="198.9" font-size="10.6" text-anchor="middle" font-weight="bold" fill="#000" >70</text>
<line x1="586.18" y1="184.60" x2="586.18" y2="188.10" stroke="#444" stroke-width="1" />
<text x="587.5" y="198.9" font-size="10.6" text-anchor="middle" font-weight="bold" fill="#000" >80</text>
<line x1="614.64" y1="184.60" x2="614.64" y2="188.10" stroke="#444" stroke-width="1" />
<text x="616.3" y="198.9" font-size="10.6" text-anchor="middle" font-weight="bold" fill="#000" >90</text>
<line x1="643.10" y1="184.60" x2="643.10" y2="188.10" stroke="#444" stroke-width="1" />
<text x="645.0" y="198.9" font-size="10.6" text-anchor="middle" font-weight="bold" fill="#000" >100</text>
<text x="490.7" y="214.5" font-size="12" text-anchor="middle" font-weight="bold" fill="#000" >Days</text>
<text transform="translate(324,117.3) rotate(-90)" font-size="12.2" font-weight="bold" text-anchor="middle">Survival probability</text>
<polyline points="442.6,47.0 451.0,92.9 456.8,115.8 462.6,161.7 471.0,161.7 476.8,161.7 482.5,161.7 491.0,161.7 496.7,161.7 502.5,161.7 510.9,161.7 516.7,184.6" fill="none" stroke="#000" stroke-width="1.3" stroke-linejoin="round"/>
<circle cx="451.0" cy="92.9" r="3.0" fill="#000"/>
<circle cx="456.8" cy="115.8" r="3.0" fill="#000"/>
<circle cx="462.6" cy="161.7" r="3.0" fill="#000"/>
<circle cx="471.0" cy="161.7" r="3.0" fill="#000"/>
<circle cx="476.8" cy="161.7" r="3.0" fill="#000"/>
<circle cx="482.5" cy="161.7" r="3.0" fill="#000"/>
<circle cx="491.0" cy="161.7" r="3.0" fill="#000"/>
<circle cx="496.7" cy="161.7" r="3.0" fill="#000"/>
<circle cx="502.5" cy="161.7" r="3.0" fill="#000"/>
<circle cx="510.9" cy="161.7" r="3.0" fill="#000"/>
<circle cx="516.7" cy="184.6" r="3.0" fill="#000"/>
<polyline points="476.8,47.0 482.5,74.5 491.0,74.5 496.7,157.1 502.5,170.8 510.9,170.8 516.7,170.8 522.5,184.6" fill="none" stroke="#d84bd8" stroke-width="1.3" stroke-linejoin="round"/>
<circle cx="482.5" cy="74.5" r="2.9" fill="#d84bd8"/>
<circle cx="491.0" cy="74.5" r="2.9" fill="#d84bd8"/>
<circle cx="496.7" cy="157.1" r="2.9" fill="#d84bd8"/>
<circle cx="502.5" cy="170.8" r="2.9" fill="#d84bd8"/>
<circle cx="510.9" cy="170.8" r="2.9" fill="#d84bd8"/>
<circle cx="516.7" cy="170.8" r="2.9" fill="#d84bd8"/>
<circle cx="522.5" cy="184.6" r="2.9" fill="#d84bd8"/>
<polyline points="359.9,47.0 374.5,47.0 380.3,47.0 383.2,47.0 391.4,47.0 397.2,47.0 402.2,47.0 411.8,47.0 417.7,47.0 422.6,47.0 431.4,47.0 436.6,47.0 442.5,47.0 451.2,47.0 457.1,47.0 462.0,47.0 470.8,47.0 476.6,47.0 482.5,47.0 491.2,47.0 497.1,47.0 502.5,47.0 510.9,47.0 516.7,47.0 522.5,47.0 530.9,47.0 536.7,47.0 542.4,47.0 550.8,47.0 556.1,84.5 561.9,84.5 573.7,84.5 579.0,134.6 584.7,184.6" fill="none" stroke="#3054a0" stroke-width="1.4" stroke-linejoin="round"/>
<circle cx="359.9" cy="47.0" r="3.0" fill="#3054a0"/>
<circle cx="374.5" cy="47.0" r="3.0" fill="#3054a0"/>
<circle cx="380.3" cy="47.0" r="3.0" fill="#3054a0"/>
<circle cx="383.2" cy="47.0" r="3.0" fill="#3054a0"/>
<circle cx="391.4" cy="47.0" r="3.0" fill="#3054a0"/>
<circle cx="397.2" cy="47.0" r="3.0" fill="#3054a0"/>
<circle cx="402.2" cy="47.0" r="3.0" fill="#3054a0"/>
<circle cx="411.8" cy="47.0" r="3.0" fill="#3054a0"/>
<circle cx="417.7" cy="47.0" r="3.0" fill="#3054a0"/>
<circle cx="422.6" cy="47.0" r="3.0" fill="#3054a0"/>
<circle cx="431.4" cy="47.0" r="3.0" fill="#3054a0"/>
<circle cx="436.6" cy="47.0" r="3.0" fill="#3054a0"/>
<circle cx="442.5" cy="47.0" r="3.0" fill="#3054a0"/>
<circle cx="451.2" cy="47.0" r="3.0" fill="#3054a0"/>
<circle cx="457.1" cy="47.0" r="3.0" fill="#3054a0"/>
<circle cx="462.0" cy="47.0" r="3.0" fill="#3054a0"/>
<circle cx="470.8" cy="47.0" r="3.0" fill="#3054a0"/>
<circle cx="476.6" cy="47.0" r="3.0" fill="#3054a0"/>
<circle cx="482.5" cy="47.0" r="3.0" fill="#3054a0"/>
<circle cx="491.2" cy="47.0" r="3.0" fill="#3054a0"/>
<circle cx="497.1" cy="47.0" r="3.0" fill="#3054a0"/>
<circle cx="502.5" cy="47.0" r="3.0" fill="#3054a0"/>
<circle cx="510.9" cy="47.0" r="3.0" fill="#3054a0"/>
<circle cx="516.7" cy="47.0" r="3.0" fill="#3054a0"/>
<circle cx="522.5" cy="47.0" r="3.0" fill="#3054a0"/>
<circle cx="530.9" cy="47.0" r="3.0" fill="#3054a0"/>
<circle cx="536.7" cy="47.0" r="3.0" fill="#3054a0"/>
<circle cx="542.4" cy="47.0" r="3.0" fill="#3054a0"/>
<circle cx="550.8" cy="47.0" r="3.0" fill="#3054a0"/>
<circle cx="556.1" cy="84.5" r="3.0" fill="#3054a0"/>
<circle cx="561.9" cy="84.5" r="3.0" fill="#3054a0"/>
<circle cx="573.7" cy="84.5" r="3.0" fill="#3054a0"/>
<circle cx="579.0" cy="134.6" r="3.0" fill="#3054a0"/>
<circle cx="584.7" cy="184.6" r="3.0" fill="#3054a0"/>
<line x1="368.90" y1="81.70" x2="390.70" y2="81.70" stroke="#000" stroke-width="1.4" />
<circle cx="379.8" cy="81.7" r="2.4" fill="#000"/>
<text x="394.2" y="85.5" font-size="10.5" text-anchor="start" font-weight="bold" fill="#000" >Vehicle</text>
<line x1="368.90" y1="96.90" x2="390.70" y2="96.90" stroke="#d84bd8" stroke-width="1.4" />
<circle cx="379.8" cy="96.9" r="2.4" fill="#d84bd8"/>
<text x="394.2" y="100.7" font-size="10.5" text-anchor="start" font-weight="bold" fill="#000" >Osim</text>
<line x1="368.90" y1="114.20" x2="390.70" y2="114.20" stroke="#3054a0" stroke-width="1.4" />
<circle cx="379.8" cy="114.2" r="2.4" fill="#3054a0"/>
<text x="394.2" y="118.0" font-size="10.5" text-anchor="start" font-weight="bold" fill="#000" >Combo</text>
<text x="506.7" y="121.5" font-size="10.6" font-weight="bold">p=3.5 x 10<tspan font-size="7.2" dy="-4">-8</tspan></text>
<text x="6.5" y="234.0" font-size="11.5" text-anchor="start" font-weight="bold" fill="#000" >C</text>
<text x="127.8" y="237.3" font-size="10.8" text-anchor="middle" font-weight="bold" fill="#000" >Hallmarks: Inflammatory response</text>
<line x1="39.60" y1="238.40" x2="216.00" y2="238.40" stroke="#111" stroke-width="1.0" />
<rect x="46.5" y="245.6" width="168.4" height="92.50000000000003" fill="#fff" stroke="#ddd" stroke-width="0.7"/>
<line x1="62.90" y1="245.60" x2="62.90" y2="310.70" stroke="#f4f4f4" stroke-width="0.7" />
<line x1="79.30" y1="245.60" x2="79.30" y2="310.70" stroke="#f4f4f4" stroke-width="0.7" />
<line x1="95.70" y1="245.60" x2="95.70" y2="310.70" stroke="#f4f4f4" stroke-width="0.7" />
<line x1="112.10" y1="245.60" x2="112.10" y2="310.70" stroke="#f4f4f4" stroke-width="0.7" />
<line x1="128.50" y1="245.60" x2="128.50" y2="310.70" stroke="#f4f4f4" stroke-width="0.7" />
<line x1="144.90" y1="245.60" x2="144.90" y2="310.70" stroke="#f4f4f4" stroke-width="0.7" />
<line x1="161.30" y1="245.60" x2="161.30" y2="310.70" stroke="#f4f4f4" stroke-width="0.7" />
<line x1="177.70" y1="245.60" x2="177.70" y2="310.70" stroke="#f4f4f4" stroke-width="0.7" />
<line x1="194.10" y1="245.60" x2="194.10" y2="310.70" stroke="#f4f4f4" stroke-width="0.7" />
<line x1="210.50" y1="245.60" x2="210.50" y2="310.70" stroke="#f4f4f4" stroke-width="0.7" />
<line x1="46.50" y1="303.80" x2="214.90" y2="303.80" stroke="#f4f4f4" stroke-width="0.7" />
<line x1="46.50" y1="282.36" x2="214.90" y2="282.36" stroke="#f4f4f4" stroke-width="0.7" />
<line x1="46.50" y1="260.92" x2="214.90" y2="260.92" stroke="#f4f4f4" stroke-width="0.7" />
<line x1="46.50" y1="303.80" x2="214.90" y2="303.80" stroke="#cfcfcf" stroke-width="0.8" />
<line x1="46.50" y1="310.70" x2="214.90" y2="310.70" stroke="#e2e2e2" stroke-width="0.6" />
<text x="42.6" y="307.1" font-size="9.2" text-anchor="end" font-weight="bold" fill="#000" >0</text>
<text x="43.5" y="285.7" font-size="9.2" text-anchor="end" font-weight="bold" fill="#000" >0.2</text>
<text x="43.5" y="264.2" font-size="9.2" text-anchor="end" font-weight="bold" fill="#000" >0.4</text>
<rect x="46.80" y="311.5" width="1.10" height="21.1" fill="rgb(105,105,105)"/>
<rect x="47.90" y="311.5" width="1.10" height="21.1" fill="rgb(35,35,35)"/>
<rect x="49.00" y="311.5" width="1.00" height="21.1" fill="rgb(85,85,85)"/>
<rect x="50.00" y="311.5" width="1.00" height="21.1" fill="rgb(20,20,20)"/>
<rect x="51.00" y="311.5" width="1.00" height="21.1" fill="rgb(45,45,45)"/>
<rect x="52.00" y="311.5" width="1.00" height="21.1" fill="rgb(65,65,65)"/>
<rect x="53.00" y="311.5" width="1.00" height="21.1" fill="rgb(90,90,90)"/>
<rect x="56.6" y="311.5" width="1.2" height="21.1" fill="rgb(60,60,60)"/>
<rect x="57.80" y="311.5" width="1.05" height="21.1" fill="rgb(115,115,115)"/>
<rect x="58.85" y="311.5" width="1.05" height="21.1" fill="rgb(115,115,115)"/>
<rect x="59.90" y="311.5" width="1.05" height="21.1" fill="rgb(115,115,115)"/>
<rect x="60.95" y="311.5" width="1.05" height="21.1" fill="rgb(185,185,185)"/>
<rect x="62.00" y="311.5" width="1.05" height="21.1" fill="rgb(95,95,95)"/>
<rect x="63.05" y="311.5" width="1.05" height="21.1" fill="rgb(185,185,185)"/>
<rect x="66.00" y="311.5" width="1.00" height="21.1" fill="rgb(20,20,20)"/>
<rect x="67.00" y="311.5" width="1.00" height="21.1" fill="rgb(20,20,20)"/>
<rect x="68.00" y="311.5" width="1.00" height="21.1" fill="rgb(75,75,75)"/>
<rect x="69.00" y="311.5" width="1.00" height="21.1" fill="rgb(95,95,95)"/>
<rect x="70.00" y="311.5" width="1.00" height="21.1" fill="rgb(115,115,115)"/>
<rect x="71.00" y="311.5" width="1.00" height="21.1" fill="rgb(115,115,115)"/>
<rect x="72.00" y="311.5" width="1.00" height="21.1" fill="rgb(125,125,125)"/>
<rect x="73.00" y="311.5" width="1.00" height="21.1" fill="rgb(175,175,175)"/>
<rect x="74.00" y="311.5" width="1.00" height="21.1" fill="rgb(85,85,85)"/>
<rect x="75.00" y="311.5" width="1.00" height="21.1" fill="rgb(35,35,35)"/>
<rect x="78.50" y="311.5" width="1.07" height="21.1" fill="rgb(75,75,75)"/>
<rect x="79.57" y="311.5" width="1.07" height="21.1" fill="rgb(75,75,75)"/>
<rect x="80.63" y="311.5" width="1.07" height="21.1" fill="rgb(145,145,145)"/>
<rect x="83.00" y="311.5" width="1.00" height="21.1" fill="rgb(150,150,150)"/>
<rect x="84.00" y="311.5" width="1.00" height="21.1" fill="rgb(215,215,215)"/>
<rect x="85.00" y="311.5" width="1.00" height="21.1" fill="rgb(175,175,175)"/>
<rect x="86.00" y="311.5" width="1.00" height="21.1" fill="rgb(130,130,130)"/>
<rect x="87.00" y="311.5" width="1.00" height="21.1" fill="rgb(200,200,200)"/>
<rect x="91.0" y="311.5" width="1.3" height="21.1" fill="rgb(60,60,60)"/>
<rect x="98.00" y="311.5" width="0.95" height="21.1" fill="rgb(150,150,150)"/>
<rect x="98.95" y="311.5" width="0.95" height="21.1" fill="rgb(195,195,195)"/>
<rect x="103.6" y="311.5" width="1.4" height="21.1" fill="rgb(90,90,90)"/>
<rect x="105.0" y="311.5" width="1.8" height="21.1" fill="rgb(60,60,60)"/>
<rect x="108.0" y="311.5" width="1.0" height="21.1" fill="rgb(150,150,150)"/>
<rect x="110.0" y="311.5" width="1.8" height="21.1" fill="rgb(140,140,140)"/>
<rect x="118.00" y="311.5" width="0.87" height="21.1" fill="rgb(175,175,175)"/>
<rect x="118.87" y="311.5" width="0.87" height="21.1" fill="rgb(105,105,105)"/>
<rect x="119.73" y="311.5" width="0.87" height="21.1" fill="rgb(105,105,105)"/>
<rect x="122.50" y="311.5" width="0.95" height="21.1" fill="rgb(150,150,150)"/>
<rect x="123.45" y="311.5" width="0.95" height="21.1" fill="rgb(125,125,125)"/>
<rect x="126.20" y="311.5" width="1.07" height="21.1" fill="rgb(105,105,105)"/>
<rect x="127.27" y="311.5" width="1.07" height="21.1" fill="rgb(175,175,175)"/>
<rect x="128.33" y="311.5" width="1.07" height="21.1" fill="rgb(150,150,150)"/>
<rect x="128.0" y="311.5" width="1.0" height="21.1" fill="rgb(140,140,140)"/>
<rect x="134.2" y="311.5" width="0.8" height="21.1" fill="rgb(140,140,140)"/>
<rect x="136.4" y="311.5" width="0.8" height="21.1" fill="rgb(140,140,140)"/>
<rect x="139.60" y="311.5" width="0.95" height="21.1" fill="rgb(150,150,150)"/>
<rect x="140.55" y="311.5" width="0.95" height="21.1" fill="rgb(150,150,150)"/>
<rect x="141.50" y="311.5" width="0.95" height="21.1" fill="rgb(175,175,175)"/>
<rect x="142.45" y="311.5" width="0.95" height="21.1" fill="rgb(175,175,175)"/>
<rect x="146.0" y="311.5" width="1.0" height="21.1" fill="rgb(90,90,90)"/>
<rect x="148.60" y="311.5" width="1.25" height="21.1" fill="rgb(115,115,115)"/>
<rect x="149.85" y="311.5" width="1.25" height="21.1" fill="rgb(140,140,140)"/>
<rect x="153.0" y="311.5" width="0.7" height="21.1" fill="rgb(170,170,170)"/>
<rect x="154.3" y="311.5" width="1.3" height="21.1" fill="rgb(150,150,150)"/>
<rect x="157.50" y="311.5" width="0.87" height="21.1" fill="rgb(105,105,105)"/>
<rect x="158.37" y="311.5" width="0.87" height="21.1" fill="rgb(80,80,80)"/>
<rect x="159.23" y="311.5" width="0.87" height="21.1" fill="rgb(80,80,80)"/>
<rect x="162.7" y="311.5" width="1.0" height="21.1" fill="rgb(150,150,150)"/>
<rect x="167.20" y="311.5" width="0.95" height="21.1" fill="rgb(135,135,135)"/>
<rect x="168.15" y="311.5" width="0.95" height="21.1" fill="rgb(65,65,65)"/>
<rect x="169.10" y="311.5" width="0.95" height="21.1" fill="rgb(110,110,110)"/>
<rect x="170.05" y="311.5" width="0.95" height="21.1" fill="rgb(110,110,110)"/>
<rect x="174.90" y="311.5" width="1.05" height="21.1" fill="rgb(90,90,90)"/>
<rect x="175.95" y="311.5" width="1.05" height="21.1" fill="rgb(65,65,65)"/>
<rect x="177.00" y="311.5" width="0.92" height="21.1" fill="rgb(95,95,95)"/>
<rect x="177.93" y="311.5" width="0.92" height="21.1" fill="rgb(95,95,95)"/>
<rect x="178.85" y="311.5" width="0.92" height="21.1" fill="rgb(120,120,120)"/>
<rect x="179.77" y="311.5" width="0.92" height="21.1" fill="rgb(145,145,145)"/>
<rect x="182.0" y="311.5" width="1.2" height="21.1" fill="rgb(150,150,150)"/>
<rect x="184.5" y="311.5" width="1.1" height="21.1" fill="rgb(150,150,150)"/>
<rect x="190.3" y="311.5" width="1.3" height="21.1" fill="rgb(130,130,130)"/>
<rect x="196.0" y="311.5" width="1.4" height="21.1" fill="rgb(160,160,160)"/>
<rect x="203.80" y="311.5" width="0.95" height="21.1" fill="rgb(105,105,105)"/>
<rect x="204.75" y="311.5" width="0.95" height="21.1" fill="rgb(175,175,175)"/>
<line x1="46.50" y1="332.60" x2="214.90" y2="332.60" stroke="#e0e0e0" stroke-width="0.6" />
<rect x="46.5" y="332.6" width="7.6" height="5.5" fill="#d40000"/>
<rect x="54.0" y="332.6" width="10.1" height="5.5" fill="#e23232"/>
<rect x="64.0" y="332.6" width="12.1" height="5.5" fill="#e84848"/>
<rect x="76.0" y="332.6" width="12.1" height="5.5" fill="#f06070"/>
<rect x="88.0" y="332.6" width="15.6" height="5.5" fill="#f88080"/>
<rect x="103.5" y="332.6" width="22.6" height="5.5" fill="#f4b8e4"/>
<rect x="126.0" y="332.6" width="19.4" height="5.5" fill="#ccccf8"/>
<rect x="145.3" y="332.6" width="16.2" height="5.5" fill="#c0c0f2"/>
<rect x="161.4" y="332.6" width="10.4" height="5.5" fill="#8484f4"/>
<rect x="171.7" y="332.6" width="15.5" height="5.5" fill="#6262e4"/>
<rect x="187.1" y="332.6" width="10.4" height="5.5" fill="#2400d0"/>
<rect x="197.4" y="332.6" width="8.8" height="5.5" fill="#4400a8"/>
<polyline points="46.5,303.8 48.0,295.0 49.7,286.6 51.3,276.9 53.7,271.3 56.1,272.9 58.5,267.3 59.9,265.4 61.2,263.8 62.6,262.5 64.2,262.4 65.8,261.7 68.2,256.0 69.8,253.2 71.4,251.2 73.0,249.9 74.6,249.1 76.2,248.0 77.8,248.5 79.4,249.0 81.0,248.8 82.6,249.1 84.2,249.4 85.8,250.3 87.4,250.4 88.8,251.4 90.1,251.5 91.5,252.5 92.8,253.1 94.2,253.9 95.5,254.5 96.9,255.7 98.2,255.7 99.6,257.3 101.0,257.6 102.4,258.3 103.7,259.4 105.1,260.1 106.5,260.8 107.9,262.4 109.3,263.4 110.8,264.2 112.2,265.6 113.6,267.1 115.0,267.8 116.4,268.9 117.8,269.2 119.1,269.8 120.5,270.7 121.9,271.5 123.3,272.5 124.6,273.3 126.0,273.7 127.3,274.4 128.7,275.2 130.0,276.2 131.4,277.4 132.7,278.1 134.1,279.2 135.4,280.7 136.7,280.9 138.1,282.2 139.4,283.6 140.8,283.7 142.1,285.0 143.4,285.5 144.8,286.2 146.1,286.6 147.5,287.0 148.8,288.0 150.1,288.6 151.5,289.4 152.8,289.9 154.2,290.8 155.5,290.9 156.9,291.7 158.2,292.2 159.6,293.0 161.0,293.0 162.4,293.8 163.8,294.6 165.2,294.9 166.6,294.9 168.0,295.7 169.4,296.2 171.0,296.4 172.6,297.2 174.2,298.3 175.8,298.6 177.4,297.5 179.0,296.5 180.3,297.1 181.6,297.3 182.9,297.9 184.2,297.6 185.5,298.1 186.9,298.8 188.3,298.7 189.7,299.4 191.1,300.2 192.7,300.7 194.3,301.2 195.9,302.2 197.5,302.9 198.9,304.1 200.3,304.6 201.6,305.2 203.0,306.9 204.4,307.4 206.0,302.9" fill="none" stroke="#14f514" stroke-width="1.6" stroke-linejoin="round"/>
<text x="57.7" y="295.7" font-size="9.2" text-anchor="start" font-weight="bold" fill="#000" >NES = 1.89</text>
<text x="118.7" y="349.2" font-size="10.8" text-anchor="middle" font-weight="bold" fill="#000" >Up in Osim</text>
<rect x="47.6" y="355.6" width="167.1" height="92.5" fill="#fff" stroke="#ddd" stroke-width="0.7"/>
<line x1="64.00" y1="355.60" x2="64.00" y2="421.80" stroke="#f4f4f4" stroke-width="0.7" />
<line x1="80.40" y1="355.60" x2="80.40" y2="421.80" stroke="#f4f4f4" stroke-width="0.7" />
<line x1="96.80" y1="355.60" x2="96.80" y2="421.80" stroke="#f4f4f4" stroke-width="0.7" />
<line x1="113.20" y1="355.60" x2="113.20" y2="421.80" stroke="#f4f4f4" stroke-width="0.7" />
<line x1="129.60" y1="355.60" x2="129.60" y2="421.80" stroke="#f4f4f4" stroke-width="0.7" />
<line x1="146.00" y1="355.60" x2="146.00" y2="421.80" stroke="#f4f4f4" stroke-width="0.7" />
<line x1="162.40" y1="355.60" x2="162.40" y2="421.80" stroke="#f4f4f4" stroke-width="0.7" />
<line x1="178.80" y1="355.60" x2="178.80" y2="421.80" stroke="#f4f4f4" stroke-width="0.7" />
<line x1="195.20" y1="355.60" x2="195.20" y2="421.80" stroke="#f4f4f4" stroke-width="0.7" />
<line x1="211.60" y1="355.60" x2="211.60" y2="421.80" stroke="#f4f4f4" stroke-width="0.7" />
<line x1="47.60" y1="400.30" x2="214.70" y2="400.30" stroke="#f4f4f4" stroke-width="0.7" />
<line x1="47.60" y1="374.10" x2="214.70" y2="374.10" stroke="#f4f4f4" stroke-width="0.7" />
<line x1="47.60" y1="400.30" x2="214.70" y2="400.30" stroke="#cfcfcf" stroke-width="0.8" />
<line x1="47.60" y1="421.80" x2="214.70" y2="421.80" stroke="#e2e2e2" stroke-width="0.6" />
<text x="43.7" y="403.6" font-size="9.2" text-anchor="end" font-weight="bold" fill="#000" >0</text>
<text x="44.6" y="377.4" font-size="9.2" text-anchor="end" font-weight="bold" fill="#000" >0.2</text>
<rect x="47.80" y="421.8" width="1.10" height="21.1" fill="rgb(115,115,115)"/>
<rect x="48.90" y="421.8" width="1.10" height="21.1" fill="rgb(70,70,70)"/>
<rect x="50.00" y="421.8" width="1.10" height="21.1" fill="rgb(70,70,70)"/>
<rect x="51.10" y="421.8" width="1.10" height="21.1" fill="rgb(45,45,45)"/>
<rect x="54.00" y="421.8" width="1.10" height="21.1" fill="rgb(175,175,175)"/>
<rect x="55.10" y="421.8" width="1.10" height="21.1" fill="rgb(105,105,105)"/>
<rect x="56.20" y="421.8" width="1.10" height="21.1" fill="rgb(150,150,150)"/>
<rect x="57.30" y="421.8" width="1.10" height="21.1" fill="rgb(195,195,195)"/>
<rect x="60.30" y="421.8" width="0.95" height="21.1" fill="rgb(195,195,195)"/>
<rect x="61.25" y="421.8" width="0.95" height="21.1" fill="rgb(150,150,150)"/>
<rect x="62.20" y="421.8" width="0.95" height="21.1" fill="rgb(175,175,175)"/>
<rect x="63.15" y="421.8" width="0.95" height="21.1" fill="rgb(150,150,150)"/>
<rect x="64.70" y="421.8" width="1.07" height="21.1" fill="rgb(65,65,65)"/>
<rect x="65.77" y="421.8" width="1.07" height="21.1" fill="rgb(90,90,90)"/>
<rect x="66.83" y="421.8" width="1.07" height="21.1" fill="rgb(135,135,135)"/>
<rect x="71.00" y="421.8" width="1.03" height="21.1" fill="rgb(105,105,105)"/>
<rect x="72.03" y="421.8" width="1.03" height="21.1" fill="rgb(155,155,155)"/>
<rect x="73.07" y="421.8" width="1.03" height="21.1" fill="rgb(85,85,85)"/>
<rect x="74.1" y="421.8" width="1.3" height="21.1" fill="rgb(80,80,80)"/>
<rect x="77.9" y="421.8" width="1.3" height="21.1" fill="rgb(150,150,150)"/>
<rect x="79.8" y="421.8" width="1.2" height="21.1" fill="rgb(80,80,80)"/>
<rect x="82.9" y="421.8" width="1.3" height="21.1" fill="rgb(150,150,150)"/>
<rect x="84.80" y="421.8" width="1.25" height="21.1" fill="rgb(70,70,70)"/>
<rect x="86.05" y="421.8" width="1.25" height="21.1" fill="rgb(25,25,25)"/>
<rect x="87.30" y="421.8" width="0.99" height="21.1" fill="rgb(150,150,150)"/>
<rect x="88.29" y="421.8" width="0.99" height="21.1" fill="rgb(175,175,175)"/>
<rect x="89.27" y="421.8" width="0.99" height="21.1" fill="rgb(175,175,175)"/>
<rect x="90.26" y="421.8" width="0.99" height="21.1" fill="rgb(195,195,195)"/>
<rect x="91.24" y="421.8" width="0.99" height="21.1" fill="rgb(150,150,150)"/>
<rect x="92.23" y="421.8" width="0.99" height="21.1" fill="rgb(175,175,175)"/>
<rect x="93.21" y="421.8" width="0.99" height="21.1" fill="rgb(125,125,125)"/>
<rect x="95.5" y="421.8" width="1.3" height="21.1" fill="rgb(160,160,160)"/>
<rect x="98.0" y="421.8" width="1.2" height="21.1" fill="rgb(150,150,150)"/>
<rect x="101.10" y="421.8" width="1.25" height="21.1" fill="rgb(165,165,165)"/>
<rect x="102.35" y="421.8" width="1.25" height="21.1" fill="rgb(185,185,185)"/>
<rect x="106.80" y="421.8" width="1.25" height="21.1" fill="rgb(100,100,100)"/>
<rect x="108.05" y="421.8" width="1.25" height="21.1" fill="rgb(55,55,55)"/>
<rect x="111.8" y="421.8" width="1.2" height="21.1" fill="rgb(150,150,150)"/>
<rect x="114.90" y="421.8" width="1.07" height="21.1" fill="rgb(90,90,90)"/>
<rect x="115.97" y="421.8" width="1.07" height="21.1" fill="rgb(65,65,65)"/>
<rect x="117.03" y="421.8" width="1.07" height="21.1" fill="rgb(115,115,115)"/>
<rect x="119.4" y="421.8" width="1.2" height="21.1" fill="rgb(150,150,150)"/>
<rect x="122.50" y="421.8" width="0.95" height="21.1" fill="rgb(35,35,35)"/>
<rect x="123.45" y="421.8" width="0.95" height="21.1" fill="rgb(35,35,35)"/>
<rect x="130.0" y="421.8" width="0.8" height="21.1" fill="rgb(130,130,130)"/>
<rect x="138.90" y="421.8" width="0.95" height="21.1" fill="rgb(75,75,75)"/>
<rect x="139.85" y="421.8" width="0.95" height="21.1" fill="rgb(55,55,55)"/>
<rect x="142.8" y="421.8" width="0.6" height="21.1" fill="rgb(150,150,150)"/>
<rect x="144.70" y="421.8" width="1.07" height="21.1" fill="rgb(65,65,65)"/>
<rect x="145.77" y="421.8" width="1.07" height="21.1" fill="rgb(110,110,110)"/>
<rect x="146.83" y="421.8" width="1.07" height="21.1" fill="rgb(85,85,85)"/>
<rect x="149.20" y="421.8" width="0.87" height="21.1" fill="rgb(165,165,165)"/>
<rect x="150.07" y="421.8" width="0.87" height="21.1" fill="rgb(115,115,115)"/>
<rect x="150.93" y="421.8" width="0.87" height="21.1" fill="rgb(140,140,140)"/>
<rect x="153.00" y="421.8" width="0.87" height="21.1" fill="rgb(135,135,135)"/>
<rect x="153.87" y="421.8" width="0.87" height="21.1" fill="rgb(135,135,135)"/>
<rect x="154.73" y="421.8" width="0.87" height="21.1" fill="rgb(155,155,155)"/>
<rect x="156.9" y="421.8" width="1.3" height="21.1" fill="rgb(150,150,150)"/>
<rect x="160.10" y="421.8" width="0.97" height="21.1" fill="rgb(135,135,135)"/>
<rect x="161.07" y="421.8" width="0.97" height="21.1" fill="rgb(110,110,110)"/>
<rect x="162.03" y="421.8" width="0.97" height="21.1" fill="rgb(155,155,155)"/>
<rect x="163.00" y="421.8" width="0.97" height="21.1" fill="rgb(135,135,135)"/>
<rect x="163.97" y="421.8" width="0.97" height="21.1" fill="rgb(110,110,110)"/>
<rect x="164.93" y="421.8" width="0.97" height="21.1" fill="rgb(135,135,135)"/>
<rect x="167.8" y="421.8" width="1.3" height="21.1" fill="rgb(170,170,170)"/>
<rect x="173.6" y="421.8" width="1.3" height="21.1" fill="rgb(150,150,150)"/>
<rect x="175.50" y="421.8" width="1.04" height="21.1" fill="rgb(85,85,85)"/>
<rect x="176.54" y="421.8" width="1.04" height="21.1" fill="rgb(155,155,155)"/>
<rect x="177.58" y="421.8" width="1.04" height="21.1" fill="rgb(130,130,130)"/>
<rect x="178.62" y="421.8" width="1.04" height="21.1" fill="rgb(175,175,175)"/>
<rect x="179.66" y="421.8" width="1.04" height="21.1" fill="rgb(175,175,175)"/>
<rect x="184.50" y="421.8" width="0.87" height="21.1" fill="rgb(135,135,135)"/>
<rect x="185.37" y="421.8" width="0.87" height="21.1" fill="rgb(90,90,90)"/>
<rect x="186.23" y="421.8" width="0.87" height="21.1" fill="rgb(45,45,45)"/>
<rect x="189.70" y="421.8" width="0.95" height="21.1" fill="rgb(85,85,85)"/>
<rect x="190.65" y="421.8" width="0.95" height="21.1" fill="rgb(65,65,65)"/>
<rect x="191.60" y="421.8" width="0.95" height="21.1" fill="rgb(65,65,65)"/>
<rect x="192.55" y="421.8" width="0.95" height="21.1" fill="rgb(85,85,85)"/>
<rect x="198.70" y="421.8" width="0.95" height="21.1" fill="rgb(150,150,150)"/>
<rect x="199.65" y="421.8" width="0.95" height="21.1" fill="rgb(150,150,150)"/>
<rect x="200.60" y="421.8" width="0.95" height="21.1" fill="rgb(175,175,175)"/>
<rect x="201.55" y="421.8" width="0.95" height="21.1" fill="rgb(195,195,195)"/>
<rect x="203.20" y="421.8" width="1.25" height="21.1" fill="rgb(25,25,25)"/>
<rect x="204.45" y="421.8" width="1.25" height="21.1" fill="rgb(45,45,45)"/>
<line x1="47.60" y1="442.90" x2="214.70" y2="442.90" stroke="#e0e0e0" stroke-width="0.6" />
<rect x="47.6" y="442.9" width="11.6" height="5.2" fill="#d40000"/>
<rect x="59.1" y="442.9" width="13.0" height="5.2" fill="#e23434"/>
<rect x="72.0" y="442.9" width="14.8" height="5.2" fill="#ec4a55"/>
<rect x="86.7" y="442.9" width="13.4" height="5.2" fill="#f06878"/>
<rect x="100.0" y="442.9" width="16.9" height="5.2" fill="#f88080"/>
<rect x="116.8" y="442.9" width="21.6" height="5.2" fill="#f8b8e8"/>
<rect x="138.3" y="442.9" width="27.1" height="5.2" fill="#cacaf6"/>
<rect x="165.3" y="442.9" width="9.7" height="5.2" fill="#8484f8"/>
<rect x="174.9" y="442.9" width="11.0" height="5.2" fill="#5555e8"/>
<rect x="185.8" y="442.9" width="8.5" height="5.2" fill="#2200d0"/>
<rect x="194.2" y="442.9" width="11.6" height="5.2" fill="#4400b0"/>
<polyline points="47.6,400.3 49.7,390.1 51.8,378.1 53.1,378.5 54.5,378.9 55.8,376.6 57.2,374.5 58.5,371.7 60.1,371.4 61.8,370.9 63.4,369.1 65.0,367.0 66.6,364.5 68.2,363.8 69.8,362.8 71.4,361.9 73.0,360.2 74.6,359.3 76.2,360.0 77.8,360.7 79.4,360.9 81.0,361.2 82.6,360.8 84.2,361.2 85.5,360.6 86.8,359.8 88.1,359.1 89.4,358.8 90.7,358.4 92.3,358.7 93.9,359.3 95.5,359.6 97.1,361.0 98.7,361.5 100.3,362.9 101.9,363.7 103.2,364.3 104.6,364.6 106.0,365.0 107.3,365.2 108.7,365.6 110.0,366.1 111.3,366.8 112.6,368.2 114.0,368.4 115.3,369.2 116.6,370.5 117.9,371.7 119.2,372.4 120.5,373.3 121.9,374.1 123.2,374.5 124.5,375.7 125.9,377.4 127.2,378.1 128.6,379.8 129.9,381.1 131.3,381.7 132.6,383.0 134.0,384.6 135.3,385.8 136.7,387.1 138.0,387.7 139.4,389.2 140.7,390.8 142.1,391.8 143.5,393.2 145.0,394.1 146.4,394.9 147.8,396.4 149.3,396.9 150.7,398.3 152.1,399.4 153.6,399.9 155.0,401.4 156.4,402.5 157.7,402.4 159.1,403.7 160.5,403.9 161.9,404.2 163.2,405.6 164.6,405.9 166.0,407.1 167.4,407.5 168.8,408.6 170.2,409.2 171.6,410.6 173.0,411.5 174.4,412.9 175.8,413.4 177.4,413.0 179.1,413.6 180.7,413.4 182.0,414.8 183.4,416.3 184.7,417.4 187.1,414.6 188.7,415.5 190.3,415.8 191.9,412.9 193.5,410.7 194.9,411.9 196.3,412.4 197.7,413.6 199.1,415.0 200.4,413.6 201.8,412.8 203.1,411.8 204.4,404.6 205.9,400.1" fill="none" stroke="#14f514" stroke-width="1.6" stroke-linejoin="round"/>
<text x="61.4" y="392.2" font-size="9.2" text-anchor="start" font-weight="bold" fill="#000" >NES = 1.42</text>
<text x="120.2" y="459.2" font-size="10.8" text-anchor="middle" font-weight="bold" fill="#000" >Up in Soraf</text>
<rect x="45.4" y="466.5" width="168.5" height="92.29999999999995" fill="#fff" stroke="#ddd" stroke-width="0.7"/>
<line x1="61.80" y1="466.50" x2="61.80" y2="532.20" stroke="#f4f4f4" stroke-width="0.7" />
<line x1="78.20" y1="466.50" x2="78.20" y2="532.20" stroke="#f4f4f4" stroke-width="0.7" />
<line x1="94.60" y1="466.50" x2="94.60" y2="532.20" stroke="#f4f4f4" stroke-width="0.7" />
<line x1="111.00" y1="466.50" x2="111.00" y2="532.20" stroke="#f4f4f4" stroke-width="0.7" />
<line x1="127.40" y1="466.50" x2="127.40" y2="532.20" stroke="#f4f4f4" stroke-width="0.7" />
<line x1="143.80" y1="466.50" x2="143.80" y2="532.20" stroke="#f4f4f4" stroke-width="0.7" />
<line x1="160.20" y1="466.50" x2="160.20" y2="532.20" stroke="#f4f4f4" stroke-width="0.7" />
<line x1="176.60" y1="466.50" x2="176.60" y2="532.20" stroke="#f4f4f4" stroke-width="0.7" />
<line x1="193.00" y1="466.50" x2="193.00" y2="532.20" stroke="#f4f4f4" stroke-width="0.7" />
<line x1="209.40" y1="466.50" x2="209.40" y2="532.20" stroke="#f4f4f4" stroke-width="0.7" />
<line x1="45.40" y1="520.60" x2="213.90" y2="520.60" stroke="#f4f4f4" stroke-width="0.7" />
<line x1="45.40" y1="498.30" x2="213.90" y2="498.30" stroke="#f4f4f4" stroke-width="0.7" />
<line x1="45.40" y1="476.00" x2="213.90" y2="476.00" stroke="#f4f4f4" stroke-width="0.7" />
<line x1="45.40" y1="520.60" x2="213.90" y2="520.60" stroke="#cfcfcf" stroke-width="0.8" />
<line x1="45.40" y1="532.20" x2="213.90" y2="532.20" stroke="#e2e2e2" stroke-width="0.6" />
<text x="41.5" y="523.9" font-size="9.2" text-anchor="end" font-weight="bold" fill="#000" >0</text>
<text x="42.4" y="501.6" font-size="9.2" text-anchor="end" font-weight="bold" fill="#000" >0.2</text>
<text x="42.4" y="479.3" font-size="9.2" text-anchor="end" font-weight="bold" fill="#000" >0.4</text>
<rect x="45.60" y="532.2" width="1.20" height="21.8" fill="rgb(75,75,75)"/>
<rect x="46.80" y="532.2" width="1.20" height="21.8" fill="rgb(20,20,20)"/>
<rect x="48.00" y="532.2" width="1.00" height="21.8" fill="rgb(115,115,115)"/>
<rect x="49.00" y="532.2" width="1.00" height="21.8" fill="rgb(45,45,45)"/>
<rect x="50.00" y="532.2" width="1.00" height="21.8" fill="rgb(20,20,20)"/>
<rect x="51.00" y="532.2" width="1.00" height="21.8" fill="rgb(20,20,20)"/>
<rect x="52.00" y="532.2" width="1.00" height="21.8" fill="rgb(85,85,85)"/>
<rect x="53.00" y="532.2" width="1.00" height="21.8" fill="rgb(135,135,135)"/>
<rect x="54.00" y="532.2" width="1.00" height="21.8" fill="rgb(135,135,135)"/>
<rect x="55.00" y="532.2" width="1.00" height="21.8" fill="rgb(135,135,135)"/>
<rect x="56.00" y="532.2" width="1.00" height="21.8" fill="rgb(60,60,60)"/>
<rect x="57.00" y="532.2" width="1.00" height="21.8" fill="rgb(60,60,60)"/>
<rect x="58.00" y="532.2" width="1.00" height="21.8" fill="rgb(100,100,100)"/>
<rect x="59.00" y="532.2" width="1.00" height="21.8" fill="rgb(100,100,100)"/>
<rect x="66.4" y="532.2" width="1.3" height="21.8" fill="rgb(70,70,70)"/>
<rect x="69.00" y="532.2" width="1.00" height="21.8" fill="rgb(85,85,85)"/>
<rect x="70.00" y="532.2" width="1.00" height="21.8" fill="rgb(85,85,85)"/>
<rect x="71.00" y="532.2" width="1.00" height="21.8" fill="rgb(110,110,110)"/>
<rect x="72.00" y="532.2" width="1.00" height="21.8" fill="rgb(65,65,65)"/>
<rect x="73.00" y="532.2" width="1.00" height="21.8" fill="rgb(20,20,20)"/>
<rect x="74.00" y="532.2" width="1.00" height="21.8" fill="rgb(105,105,105)"/>
<rect x="75.0" y="532.2" width="1.7" height="21.8" fill="rgb(120,120,120)"/>
<rect x="78.60" y="532.2" width="0.95" height="21.8" fill="rgb(175,175,175)"/>
<rect x="79.55" y="532.2" width="0.95" height="21.8" fill="rgb(150,150,150)"/>
<rect x="80.5" y="532.2" width="1.0" height="21.8" fill="rgb(70,70,70)"/>
<rect x="83.80" y="532.2" width="1.10" height="21.8" fill="rgb(25,25,25)"/>
<rect x="84.90" y="532.2" width="1.10" height="21.8" fill="rgb(70,70,70)"/>
<rect x="86.00" y="532.2" width="0.97" height="21.8" fill="rgb(85,85,85)"/>
<rect x="86.97" y="532.2" width="0.97" height="21.8" fill="rgb(85,85,85)"/>
<rect x="87.93" y="532.2" width="0.97" height="21.8" fill="rgb(65,65,65)"/>
<rect x="90.20" y="532.2" width="1.12" height="21.8" fill="rgb(125,125,125)"/>
<rect x="91.33" y="532.2" width="1.12" height="21.8" fill="rgb(170,170,170)"/>
<rect x="92.45" y="532.2" width="1.12" height="21.8" fill="rgb(125,125,125)"/>
<rect x="93.58" y="532.2" width="1.12" height="21.8" fill="rgb(195,195,195)"/>
<rect x="94.7" y="532.2" width="1.3" height="21.8" fill="rgb(80,80,80)"/>
<rect x="99.20" y="532.2" width="0.95" height="21.8" fill="rgb(25,25,25)"/>
<rect x="100.15" y="532.2" width="0.95" height="21.8" fill="rgb(25,25,25)"/>
<rect x="104.30" y="532.2" width="0.98" height="21.8" fill="rgb(125,125,125)"/>
<rect x="105.28" y="532.2" width="0.98" height="21.8" fill="rgb(195,195,195)"/>
<rect x="106.25" y="532.2" width="0.98" height="21.8" fill="rgb(195,195,195)"/>
<rect x="107.22" y="532.2" width="0.98" height="21.8" fill="rgb(175,175,175)"/>
<rect x="109.40" y="532.2" width="0.87" height="21.8" fill="rgb(125,125,125)"/>
<rect x="110.27" y="532.2" width="0.87" height="21.8" fill="rgb(105,105,105)"/>
<rect x="111.13" y="532.2" width="0.87" height="21.8" fill="rgb(80,80,80)"/>
<rect x="113.30" y="532.2" width="0.95" height="21.8" fill="rgb(55,55,55)"/>
<rect x="114.25" y="532.2" width="0.95" height="21.8" fill="rgb(35,35,35)"/>
<rect x="117.8" y="532.2" width="1.2" height="21.8" fill="rgb(150,150,150)"/>
<rect x="121.00" y="532.2" width="1.07" height="21.8" fill="rgb(90,90,90)"/>
<rect x="122.07" y="532.2" width="1.07" height="21.8" fill="rgb(65,65,65)"/>
<rect x="123.13" y="532.2" width="1.07" height="21.8" fill="rgb(135,135,135)"/>
<rect x="126.2" y="532.2" width="1.8" height="21.8" fill="rgb(150,150,150)"/>
<rect x="129.0" y="532.2" width="1.0" height="21.8" fill="rgb(140,140,140)"/>
<rect x="135.1" y="532.2" width="1.3" height="21.8" fill="rgb(90,90,90)"/>
<rect x="140.20" y="532.2" width="0.98" height="21.8" fill="rgb(55,55,55)"/>
<rect x="141.17" y="532.2" width="0.98" height="21.8" fill="rgb(75,75,75)"/>
<rect x="142.15" y="532.2" width="0.98" height="21.8" fill="rgb(100,100,100)"/>
<rect x="143.12" y="532.2" width="0.98" height="21.8" fill="rgb(100,100,100)"/>
<rect x="146.0" y="532.2" width="1.3" height="21.8" fill="rgb(80,80,80)"/>
<rect x="149.2" y="532.2" width="1.3" height="21.8" fill="rgb(140,140,140)"/>
<rect x="151.10" y="532.2" width="0.87" height="21.8" fill="rgb(105,105,105)"/>
<rect x="151.97" y="532.2" width="0.87" height="21.8" fill="rgb(105,105,105)"/>
<rect x="152.83" y="532.2" width="0.87" height="21.8" fill="rgb(150,150,150)"/>
<rect x="155.6" y="532.2" width="1.3" height="21.8" fill="rgb(150,150,150)"/>
<rect x="158.2" y="532.2" width="1.3" height="21.8" fill="rgb(80,80,80)"/>
<rect x="164.00" y="532.2" width="1.25" height="21.8" fill="rgb(165,165,165)"/>
<rect x="165.25" y="532.2" width="1.25" height="21.8" fill="rgb(215,215,215)"/>
<rect x="167.8" y="532.2" width="1.3" height="21.8" fill="rgb(160,160,160)"/>
<rect x="170.40" y="532.2" width="0.87" height="21.8" fill="rgb(185,185,185)"/>
<rect x="171.27" y="532.2" width="0.87" height="21.8" fill="rgb(115,115,115)"/>
<rect x="172.13" y="532.2" width="0.87" height="21.8" fill="rgb(185,185,185)"/>
<rect x="174.20" y="532.2" width="1.10" height="21.8" fill="rgb(170,170,170)"/>
<rect x="175.30" y="532.2" width="1.10" height="21.8" fill="rgb(195,195,195)"/>
<rect x="176.40" y="532.2" width="1.10" height="21.8" fill="rgb(125,125,125)"/>
<rect x="182.00" y="532.2" width="0.95" height="21.8" fill="rgb(65,65,65)"/>
<rect x="182.95" y="532.2" width="0.95" height="21.8" fill="rgb(135,135,135)"/>
<rect x="187.7" y="532.2" width="1.3" height="21.8" fill="rgb(90,90,90)"/>
<rect x="190.3" y="532.2" width="1.3" height="21.8" fill="rgb(90,90,90)"/>
<rect x="192.90" y="532.2" width="0.95" height="21.8" fill="rgb(105,105,105)"/>
<rect x="193.85" y="532.2" width="0.95" height="21.8" fill="rgb(125,125,125)"/>
<rect x="194.80" y="532.2" width="0.95" height="21.8" fill="rgb(150,150,150)"/>
<rect x="195.75" y="532.2" width="0.95" height="21.8" fill="rgb(195,195,195)"/>
<rect x="201.20" y="532.2" width="0.90" height="21.8" fill="rgb(75,75,75)"/>
<rect x="202.10" y="532.2" width="0.90" height="21.8" fill="rgb(75,75,75)"/>
<rect x="203.00" y="532.2" width="0.90" height="21.8" fill="rgb(55,55,55)"/>
<rect x="203.90" y="532.2" width="0.90" height="21.8" fill="rgb(75,75,75)"/>
<line x1="45.40" y1="554.00" x2="213.90" y2="554.00" stroke="#e0e0e0" stroke-width="0.6" />
<rect x="45.6" y="554.0" width="8.1" height="4.8" fill="#d40000"/>
<rect x="53.6" y="554.0" width="12.5" height="4.8" fill="#e43838"/>
<rect x="66.0" y="554.0" width="14.1" height="4.8" fill="#ec4848"/>
<rect x="80.0" y="554.0" width="10.1" height="4.8" fill="#f05a68"/>
<rect x="90.0" y="554.0" width="19.6" height="4.8" fill="#f27a80"/>
<rect x="109.5" y="554.0" width="20.9" height="4.8" fill="#f8b8e8"/>
<rect x="130.3" y="554.0" width="32.5" height="4.8" fill="#cacaf6"/>
<rect x="162.7" y="554.0" width="11.0" height="4.8" fill="#8080f6"/>
<rect x="173.6" y="554.0" width="14.2" height="4.8" fill="#5a44e8"/>
<rect x="187.7" y="554.0" width="9.8" height="4.8" fill="#2200d0"/>
<rect x="197.4" y="554.0" width="8.4" height="4.8" fill="#4400a8"/>
<polyline points="45.4,520.6 47.1,509.8 48.4,504.5 49.7,499.6 52.3,487.6 54.8,483.3 56.2,480.7 57.7,477.7 59.1,474.7 60.8,474.3 62.5,474.2 63.9,475.0 65.4,476.3 66.8,477.3 68.1,475.7 69.4,473.8 70.9,472.7 72.4,472.5 73.9,471.1 75.4,470.4 77.1,469.7 78.8,469.7 80.5,469.6 81.8,469.9 83.1,469.5 84.4,469.6 85.7,469.1 87.1,470.0 88.5,470.4 90.0,470.7 91.4,470.8 92.8,472.0 94.2,472.1 95.7,472.8 97.1,473.4 98.5,474.4 100.0,475.1 101.4,475.5 102.8,476.4 104.1,477.2 105.5,478.2 106.8,478.4 108.1,479.4 109.5,480.0 110.8,480.6 112.2,480.9 113.5,482.1 114.8,482.7 116.2,483.0 117.5,483.9 118.8,484.7 120.2,486.0 121.5,487.3 122.9,487.9 124.2,488.5 125.5,490.2 126.9,490.8 128.2,491.9 129.6,492.5 130.9,493.5 132.3,494.2 133.6,495.2 134.9,496.3 136.3,497.8 137.6,498.8 139.0,499.4 140.3,500.5 141.6,501.1 143.0,502.3 144.3,503.0 145.7,503.9 147.0,504.8 148.4,505.1 149.7,506.5 151.1,506.7 152.4,507.5 153.8,508.7 155.1,509.5 156.5,510.6 157.8,511.1 159.2,511.7 160.6,512.6 161.9,513.4 163.3,513.8 164.7,514.1 166.1,515.3 167.4,515.5 168.8,516.2 170.2,517.3 171.6,518.2 173.0,518.5 174.3,519.7 175.7,520.2 177.1,520.7 178.4,521.0 179.7,521.6 181.0,522.2 182.3,522.4 183.7,523.0 185.1,524.1 186.5,524.1 187.9,525.5 189.3,526.0 190.7,525.8 192.1,525.8 193.6,525.2 195.0,525.3 196.4,525.1 197.8,526.7 199.3,527.4 200.7,528.6 202.1,525.8 203.4,523.3 205.1,520.2" fill="none" stroke="#14f514" stroke-width="1.6" stroke-linejoin="round"/>
<text x="59.6" y="512.9" font-size="9.2" text-anchor="start" font-weight="bold" fill="#000" >NES = 1.48</text>
<text x="122.5" y="570.0" font-size="10.8" text-anchor="middle" font-weight="bold" fill="#000" >Up in Combo</text>
<line x1="35.50" y1="549.00" x2="35.50" y2="571.50" stroke="#000" stroke-width="1.4" />
<line x1="35.50" y1="571.50" x2="57.00" y2="571.50" stroke="#000" stroke-width="1.4" />
<path d="M35.5,545.3 L32.6,550.5 L38.4,550.5 Z" fill="#000"/>
<path d="M61,571.5 L55.8,568.6 L55.8,574.4 Z" fill="#000"/>
<text transform="translate(31.5,561) rotate(-90)" font-size="9.5" font-weight="bold" text-anchor="middle">ES</text>
<text x="44.0" y="582.7" font-size="9.5" text-anchor="middle" font-weight="bold" fill="#000" >Rank</text>
<text x="249.8" y="255.9" font-size="11.5" text-anchor="start" font-weight="bold" fill="#000" >D</text>
<rect x="255.2" y="279.3" width="96.4" height="63.4" fill="#bcc9d7"/>
<rect x="255.2" y="279.3" width="96.4" height="63.4" filter="url(#grain)" opacity="0.35" style="mix-blend-mode:overlay"/>
<line x1="336.60" y1="339.10" x2="348.40" y2="339.10" stroke="#000" stroke-width="1.3" />
<text x="342.5" y="336.1" font-size="4" text-anchor="middle" fill="#222">100 µm</text>
<rect x="353.6" y="279.3" width="96.4" height="63.4" fill="#b0bcd4"/>
<rect x="353.6" y="279.3" width="96.4" height="63.4" filter="url(#blotch01)" opacity="0.12"/>
<rect x="353.6" y="279.3" width="96.4" height="63.4" filter="url(#grain)" opacity="0.35" style="mix-blend-mode:overlay"/>
<line x1="435.00" y1="339.10" x2="446.80" y2="339.10" stroke="#000" stroke-width="1.3" />
<text x="440.9" y="336.1" font-size="4" text-anchor="middle" fill="#222">100 µm</text>
<rect x="451.6" y="279.3" width="96.4" height="63.4" fill="#b8c3d8"/>
<rect x="451.6" y="279.3" width="96.4" height="63.4" filter="url(#blotch02)" opacity="0.12"/>
<rect x="451.6" y="279.3" width="96.4" height="63.4" filter="url(#grain)" opacity="0.35" style="mix-blend-mode:overlay"/>
<line x1="533.00" y1="339.10" x2="544.80" y2="339.10" stroke="#000" stroke-width="1.3" />
<text x="538.9" y="336.1" font-size="4" text-anchor="middle" fill="#222">100 µm</text>
<rect x="549.4" y="279.3" width="96.4" height="63.4" fill="#c6cfdd"/>
<rect x="549.4" y="279.3" width="96.4" height="63.4" filter="url(#blotch03)" opacity="0.15"/>
<rect x="549.4" y="279.3" width="96.4" height="63.4" filter="url(#grain)" opacity="0.35" style="mix-blend-mode:overlay"/>
<line x1="630.80" y1="339.10" x2="642.60" y2="339.10" stroke="#000" stroke-width="1.3" />
<text x="636.7" y="336.1" font-size="4" text-anchor="middle" fill="#222">100 µm</text>
<rect x="255.2" y="346.9" width="96.4" height="63.4" fill="#cfd9da"/>
<rect x="255.2" y="346.9" width="96.4" height="63.4" filter="url(#blotch10)" opacity="0.15"/>
<rect x="255.2" y="346.9" width="96.4" height="63.4" filter="url(#grain)" opacity="0.35" style="mix-blend-mode:overlay"/>
<line x1="326.80" y1="406.70" x2="347.30" y2="406.70" stroke="#000" stroke-width="1.3" />
<text x="337.1" y="403.7" font-size="4" text-anchor="middle" fill="#222">100 µm</text>
<rect x="353.6" y="346.9" width="96.4" height="63.4" fill="#cfdad9"/>
<rect x="353.6" y="346.9" width="96.4" height="63.4" filter="url(#blotch11)" opacity="0.15"/>
<rect x="353.6" y="346.9" width="96.4" height="63.4" filter="url(#grain)" opacity="0.35" style="mix-blend-mode:overlay"/>
<line x1="425.20" y1="406.70" x2="445.70" y2="406.70" stroke="#000" stroke-width="1.3" />
<text x="435.4" y="403.7" font-size="4" text-anchor="middle" fill="#222">100 µm</text>
<rect x="451.6" y="346.9" width="96.4" height="63.4" fill="#c4cdd9"/>
<rect x="451.6" y="346.9" width="96.4" height="63.4" filter="url(#blotch12)" opacity="0.08"/>
<rect x="451.6" y="346.9" width="96.4" height="63.4" filter="url(#grain)" opacity="0.35" style="mix-blend-mode:overlay"/>
<line x1="523.20" y1="406.70" x2="543.70" y2="406.70" stroke="#000" stroke-width="1.3" />
<text x="533.5" y="403.7" font-size="4" text-anchor="middle" fill="#222">100 µm</text>
<rect x="549.4" y="346.9" width="96.4" height="63.4" fill="#d3dddd"/>
<rect x="549.4" y="346.9" width="96.4" height="63.4" filter="url(#blotch13)" opacity="0.12"/>
<rect x="549.4" y="346.9" width="96.4" height="63.4" filter="url(#grain)" opacity="0.35" style="mix-blend-mode:overlay"/>
<line x1="621.00" y1="406.70" x2="641.50" y2="406.70" stroke="#000" stroke-width="1.3" />
<text x="631.2" y="403.7" font-size="4" text-anchor="middle" fill="#222">100 µm</text>
<rect x="255.2" y="415.1" width="96.4" height="63.4" fill="#c3cfdb"/>
<rect x="255.2" y="415.1" width="96.4" height="63.4" filter="url(#grain)" opacity="0.35" style="mix-blend-mode:overlay"/>
<line x1="326.80" y1="474.90" x2="347.30" y2="474.90" stroke="#000" stroke-width="1.3" />
<text x="337.1" y="471.9" font-size="4" text-anchor="middle" fill="#222">100 µm</text>
<rect x="353.6" y="415.1" width="96.4" height="63.4" fill="#c6cfd6"/>
<rect x="353.6" y="415.1" width="96.4" height="63.4" filter="url(#blotch21)" opacity="0.25"/>
<rect x="353.6" y="415.1" width="96.4" height="63.4" filter="url(#grain)" opacity="0.35" style="mix-blend-mode:overlay"/>
<line x1="425.20" y1="474.90" x2="445.70" y2="474.90" stroke="#000" stroke-width="1.3" />
<text x="435.4" y="471.9" font-size="4" text-anchor="middle" fill="#222">100 µm</text>
<rect x="451.6" y="415.1" width="96.4" height="63.4" fill="#d0d0d8"/>
<rect x="451.6" y="415.1" width="96.4" height="63.4" filter="url(#blotch22)" opacity="0.05"/>
<rect x="451.6" y="415.1" width="96.4" height="63.4" filter="url(#grain)" opacity="0.35" style="mix-blend-mode:overlay"/>
<line x1="523.20" y1="474.90" x2="543.70" y2="474.90" stroke="#000" stroke-width="1.3" />
<text x="533.5" y="471.9" font-size="4" text-anchor="middle" fill="#222">100 µm</text>
<rect x="549.4" y="415.1" width="96.4" height="63.4" fill="#cbd3db"/>
<rect x="549.4" y="415.1" width="96.4" height="63.4" filter="url(#blotch23)" opacity="0.25"/>
<rect x="549.4" y="415.1" width="96.4" height="63.4" filter="url(#grain)" opacity="0.35" style="mix-blend-mode:overlay"/>
<line x1="621.00" y1="474.90" x2="641.50" y2="474.90" stroke="#000" stroke-width="1.3" />
<text x="631.2" y="471.9" font-size="4" text-anchor="middle" fill="#222">100 µm</text>
<rect x="255.2" y="482.1" width="96.4" height="63.4" fill="#cbccd5"/>
<rect x="255.2" y="482.1" width="96.4" height="63.4" filter="url(#blotch30)" opacity="0.12"/>
<rect x="255.2" y="482.1" width="96.4" height="63.4" filter="url(#grain)" opacity="0.35" style="mix-blend-mode:overlay"/>
<line x1="326.80" y1="541.90" x2="347.30" y2="541.90" stroke="#000" stroke-width="1.3" />
<text x="337.1" y="538.9" font-size="4" text-anchor="middle" fill="#222">100 µm</text>
<rect x="353.6" y="482.1" width="96.4" height="63.4" fill="#cecacb"/>
<rect x="353.6" y="482.1" width="96.4" height="63.4" filter="url(#blotch31)" opacity="0.32"/>
<rect x="353.6" y="482.1" width="96.4" height="63.4" filter="url(#grain)" opacity="0.35" style="mix-blend-mode:overlay"/>
<line x1="425.20" y1="541.90" x2="445.70" y2="541.90" stroke="#000" stroke-width="1.3" />
<text x="435.4" y="538.9" font-size="4" text-anchor="middle" fill="#222">100 µm</text>
<rect x="451.6" y="482.1" width="96.4" height="63.4" fill="#cecdd2"/>
<rect x="451.6" y="482.1" width="96.4" height="63.4" filter="url(#blotch32)" opacity="0.2"/>
<rect x="451.6" y="482.1" width="96.4" height="63.4" filter="url(#grain)" opacity="0.35" style="mix-blend-mode:overlay"/>
<line x1="523.20" y1="541.90" x2="543.70" y2="541.90" stroke="#000" stroke-width="1.3" />
<text x="533.5" y="538.9" font-size="4" text-anchor="middle" fill="#222">100 µm</text>
<rect x="549.4" y="482.1" width="96.4" height="63.4" fill="#d0c9c8"/>
<rect x="549.4" y="482.1" width="96.4" height="63.4" filter="url(#blotch33)" opacity="0.35"/>
<rect x="549.4" y="482.1" width="96.4" height="63.4" filter="url(#grain)" opacity="0.35" style="mix-blend-mode:overlay"/>
<line x1="621.00" y1="541.90" x2="641.50" y2="541.90" stroke="#000" stroke-width="1.3" />
<text x="631.2" y="538.9" font-size="4" text-anchor="middle" fill="#222">100 µm</text>
<ellipse cx="312" cy="517" rx="22" ry="12" transform="rotate(35 312 517)" fill="url(#brownrg)" opacity="0.15"/>
<ellipse cx="400" cy="500" rx="40" ry="16" transform="rotate(0 400 500)" fill="url(#brownrg)" opacity="0.22"/>
<ellipse cx="420" cy="526" rx="26" ry="12" transform="rotate(20 420 526)" fill="url(#brownrg)" opacity="0.18"/>
<ellipse cx="372" cy="522" rx="16" ry="10" transform="rotate(0 372 522)" fill="url(#brownrg)" opacity="0.15"/>
<ellipse cx="476" cy="506" rx="22" ry="13" transform="rotate(20 476 506)" fill="url(#brownrg)" opacity="0.15"/>
<ellipse cx="470" cy="530" rx="20" ry="10" transform="rotate(0 470 530)" fill="url(#brownrg)" opacity="0.12"/>
<ellipse cx="592" cy="498" rx="45" ry="20" transform="rotate(0 592 498)" fill="url(#brownrg)" opacity="0.25"/>
<ellipse cx="580" cy="525" rx="25" ry="12" transform="rotate(0 580 525)" fill="url(#brownrg)" opacity="0.15"/>
<ellipse cx="405" cy="455" rx="14" ry="24" transform="rotate(0 405 455)" fill="url(#brownrg)" opacity="0.14"/>
<ellipse cx="598" cy="445" rx="35" ry="20" transform="rotate(0 598 445)" fill="url(#brownrg)" opacity="0.09"/>
<text x="307.3" y="276.2" font-size="10.6" text-anchor="middle" font-weight="bold" fill="#000" >Control</text>
<text x="398.2" y="276.2" font-size="10.6" text-anchor="middle" font-weight="bold" fill="#000" >Osim</text>
<text x="494.6" y="276.2" font-size="10.6" text-anchor="middle" font-weight="bold" fill="#000" >Soraf</text>
<text x="589.3" y="276.2" font-size="10.6" text-anchor="middle" font-weight="bold" fill="#000" >Combo</text>
<text x="647.6" y="318.3" font-size="10.6" text-anchor="start" font-weight="bold" fill="#000" >α-CD8</text>
<text x="647.6" y="385.8" font-size="10.6" text-anchor="start" font-weight="bold" fill="#000" >α-CD3</text>
<text x="647.6" y="454.2" font-size="10.6" text-anchor="start" font-weight="bold" fill="#000" >α-CD68</text>
<text x="647.6" y="521.2" font-size="10.6" text-anchor="start" font-weight="bold" fill="#000" >α-CD86</text>
<circle cx="392.8" cy="307.8" r="0.9" fill="#9a6a4a" opacity="0.35"/>
<circle cx="412.7" cy="300.7" r="0.9" fill="#9a6a4a" opacity="0.35"/>
<circle cx="374.8" cy="328.3" r="0.9" fill="#9a6a4a" opacity="0.35"/>
<circle cx="412.7" cy="332.6" r="0.9" fill="#9a6a4a" opacity="0.35"/>
<circle cx="479.6" cy="297.9" r="0.9" fill="#9a6a4a" opacity="0.35"/>
<circle cx="521.7" cy="290.7" r="0.9" fill="#9a6a4a" opacity="0.35"/>
<circle cx="542.2" cy="290.2" r="0.9" fill="#9a6a4a" opacity="0.35"/>
<circle cx="469.6" cy="323.5" r="0.9" fill="#9a6a4a" opacity="0.35"/>
<circle cx="619.0" cy="292.4" r="0.9" fill="#9a6a4a" opacity="0.35"/>
<circle cx="578.7" cy="315.5" r="0.9" fill="#9a6a4a" opacity="0.35"/>
<circle cx="614.1" cy="327.5" r="0.9" fill="#9a6a4a" opacity="0.35"/>
<circle cx="605.9" cy="339.5" r="0.9" fill="#9a6a4a" opacity="0.35"/>
<circle cx="304.7" cy="354.3" r="0.9" fill="#9a6a4a" opacity="0.35"/>
<circle cx="323.2" cy="355.5" r="0.9" fill="#9a6a4a" opacity="0.35"/>
<circle cx="291.4" cy="379.1" r="0.9" fill="#9a6a4a" opacity="0.35"/>
<circle cx="335.5" cy="381.1" r="0.9" fill="#9a6a4a" opacity="0.35"/>
<circle cx="380.2" cy="360.0" r="0.9" fill="#9a6a4a" opacity="0.35"/>
<circle cx="402.1" cy="357.7" r="0.9" fill="#9a6a4a" opacity="0.35"/>
<circle cx="361.1" cy="374.8" r="0.9" fill="#9a6a4a" opacity="0.35"/>
<circle cx="393.0" cy="379.1" r="0.9" fill="#9a6a4a" opacity="0.35"/>
<circle cx="488.8" cy="358.3" r="0.9" fill="#9a6a4a" opacity="0.35"/>
<circle cx="512.1" cy="354.9" r="0.9" fill="#9a6a4a" opacity="0.35"/>
<circle cx="512.1" cy="365.7" r="0.9" fill="#9a6a4a" opacity="0.35"/>
<circle cx="494.5" cy="382.8" r="0.9" fill="#9a6a4a" opacity="0.35"/>
<circle cx="608.9" cy="352.0" r="0.9" fill="#9a6a4a" opacity="0.35"/>
<circle cx="640.2" cy="377.7" r="0.9" fill="#9a6a4a" opacity="0.35"/>
<circle cx="594.7" cy="401.0" r="0.9" fill="#9a6a4a" opacity="0.35"/>
<circle cx="610.3" cy="398.2" r="0.9" fill="#9a6a4a" opacity="0.35"/>
<circle cx="619.8" cy="293.2" r="1.0" fill="#9a6a4a" opacity="0.35"/>
<circle cx="614.2" cy="330.0" r="1.0" fill="#9a6a4a" opacity="0.35"/>
<circle cx="613.5" cy="335.0" r="1.0" fill="#9a6a4a" opacity="0.35"/>
<circle cx="612.0" cy="340.6" r="1.0" fill="#9a6a4a" opacity="0.35"/>
<circle cx="624.0" cy="328.6" r="1.0" fill="#9a6a4a" opacity="0.35"/>
<circle cx="630.4" cy="322.6" r="1.0" fill="#9a6a4a" opacity="0.35"/>
<circle cx="384.0" cy="366.0" r="1.0" fill="#9a6a4a" opacity="0.35"/>
<circle cx="397.0" cy="385.0" r="1.0" fill="#9a6a4a" opacity="0.35"/>
<circle cx="404.0" cy="389.0" r="1.0" fill="#9a6a4a" opacity="0.35"/>
<circle cx="419.0" cy="398.0" r="1.0" fill="#9a6a4a" opacity="0.35"/>
<circle cx="296.0" cy="365.0" r="1.0" fill="#9a6a4a" opacity="0.35"/>
<circle cx="340.0" cy="369.0" r="1.0" fill="#9a6a4a" opacity="0.35"/>
<ellipse cx="387.4" cy="354.5" rx="1.6" ry="1.2" fill="#f4f6f4" opacity="0.9"/>
<ellipse cx="423.0" cy="364.5" rx="1.5" ry="1.8" fill="#f4f6f4" opacity="0.9"/>
<ellipse cx="445.7" cy="367.3" rx="1.8" ry="2.2" fill="#f4f6f4" opacity="0.9"/>
<ellipse cx="363.2" cy="366.0" rx="1.4" ry="1.2" fill="#f4f6f4" opacity="0.9"/>
<ellipse cx="368.0" cy="396.5" rx="3.5" ry="1.4" fill="#f4f6f4" opacity="0.9"/>
<ellipse cx="372.0" cy="392.5" rx="2.2" ry="1.1" fill="#f4f6f4" opacity="0.9"/>
<ellipse cx="468.0" cy="348.5" rx="1.3" ry="1.3" fill="#f4f6f4" opacity="0.9"/>
<ellipse cx="532.0" cy="352.0" rx="1.3" ry="1.4" fill="#f4f6f4" opacity="0.9"/>
<ellipse cx="533.0" cy="386.7" rx="1.5" ry="1.4" fill="#f4f6f4" opacity="0.9"/>
<ellipse cx="466.0" cy="395.5" rx="1.4" ry="1.4" fill="#f4f6f4" opacity="0.9"/>
<path d="M385.8,302.2 L389.4,305.3" stroke="#2a2a2a" stroke-width="0.7"/>
<path d="M391.0,306.7 L388.0,306.1 L390.2,303.9 Z" fill="#1a1a1a"/>
<path d="M405.7,295.1 L409.3,298.2" stroke="#2a2a2a" stroke-width="0.7"/>
<path d="M410.9,299.6 L407.9,299.0 L410.1,296.8 Z" fill="#1a1a1a"/>
<path d="M367.8,322.7 L371.4,325.8" stroke="#2a2a2a" stroke-width="0.7"/>
<path d="M373.0,327.2 L370.0,326.6 L372.2,324.4 Z" fill="#1a1a1a"/>
<path d="M405.7,327.0 L409.3,330.1" stroke="#2a2a2a" stroke-width="0.7"/>
<path d="M410.9,331.5 L407.9,330.9 L410.1,328.7 Z" fill="#1a1a1a"/>
<path d="M472.6,292.3 L476.2,295.4" stroke="#2a2a2a" stroke-width="0.7"/>
<path d="M477.8,296.8 L474.8,296.2 L477.0,294.0 Z" fill="#1a1a1a"/>
<path d="M514.7,285.1 L518.3,288.2" stroke="#2a2a2a" stroke-width="0.7"/>
<path d="M519.9,289.6 L516.9,289.0 L519.1,286.8 Z" fill="#1a1a1a"/>
<path d="M535.2,284.6 L538.8,287.7" stroke="#2a2a2a" stroke-width="0.7"/>
<path d="M540.4,289.1 L537.4,288.5 L539.6,286.3 Z" fill="#1a1a1a"/>
<path d="M462.6,317.9 L466.2,321.0" stroke="#2a2a2a" stroke-width="0.7"/>
<path d="M467.8,322.4 L464.8,321.8 L467.0,319.6 Z" fill="#1a1a1a"/>
<path d="M612.0,286.8 L615.6,289.9" stroke="#2a2a2a" stroke-width="0.7"/>
<path d="M617.2,291.3 L614.2,290.7 L616.4,288.5 Z" fill="#1a1a1a"/>
<path d="M571.7,309.9 L575.3,313.0" stroke="#2a2a2a" stroke-width="0.7"/>
<path d="M576.9,314.4 L573.9,313.8 L576.1,311.6 Z" fill="#1a1a1a"/>
<path d="M607.1,321.9 L610.7,325.0" stroke="#2a2a2a" stroke-width="0.7"/>
<path d="M612.3,326.4 L609.3,325.8 L611.5,323.6 Z" fill="#1a1a1a"/>
<path d="M598.9,333.9 L602.5,337.0" stroke="#2a2a2a" stroke-width="0.7"/>
<path d="M604.1,338.4 L601.1,337.8 L603.3,335.6 Z" fill="#1a1a1a"/>
<path d="M297.7,348.7 L301.3,351.8" stroke="#2a2a2a" stroke-width="0.7"/>
<path d="M302.9,353.2 L299.9,352.6 L302.1,350.4 Z" fill="#1a1a1a"/>
<path d="M316.2,349.9 L319.8,353.0" stroke="#2a2a2a" stroke-width="0.7"/>
<path d="M321.4,354.4 L318.4,353.8 L320.6,351.6 Z" fill="#1a1a1a"/>
<path d="M284.4,373.5 L288.0,376.6" stroke="#2a2a2a" stroke-width="0.7"/>
<path d="M289.6,378.0 L286.6,377.4 L288.8,375.2 Z" fill="#1a1a1a"/>
<path d="M328.5,375.5 L332.1,378.6" stroke="#2a2a2a" stroke-width="0.7"/>
<path d="M333.7,380.0 L330.7,379.4 L332.9,377.2 Z" fill="#1a1a1a"/>
<path d="M373.2,354.4 L376.8,357.5" stroke="#2a2a2a" stroke-width="0.7"/>
<path d="M378.4,358.9 L375.4,358.3 L377.6,356.1 Z" fill="#1a1a1a"/>
<path d="M395.1,352.1 L398.7,355.2" stroke="#2a2a2a" stroke-width="0.7"/>
<path d="M400.3,356.6 L397.3,356.0 L399.5,353.8 Z" fill="#1a1a1a"/>
<path d="M354.1,369.2 L357.7,372.3" stroke="#2a2a2a" stroke-width="0.7"/>
<path d="M359.3,373.7 L356.3,373.1 L358.5,370.9 Z" fill="#1a1a1a"/>
<path d="M386.0,373.5 L389.6,376.6" stroke="#2a2a2a" stroke-width="0.7"/>
<path d="M391.2,378.0 L388.2,377.4 L390.4,375.2 Z" fill="#1a1a1a"/>
<path d="M481.8,352.7 L485.4,355.8" stroke="#2a2a2a" stroke-width="0.7"/>
<path d="M487.0,357.2 L484.0,356.6 L486.2,354.4 Z" fill="#1a1a1a"/>
<path d="M505.1,349.3 L508.7,352.4" stroke="#2a2a2a" stroke-width="0.7"/>
<path d="M510.3,353.8 L507.3,353.2 L509.5,351.0 Z" fill="#1a1a1a"/>
<path d="M505.1,360.1 L508.7,363.2" stroke="#2a2a2a" stroke-width="0.7"/>
<path d="M510.3,364.6 L507.3,364.0 L509.5,361.8 Z" fill="#1a1a1a"/>
<path d="M487.5,377.2 L491.1,380.3" stroke="#2a2a2a" stroke-width="0.7"/>
<path d="M492.7,381.7 L489.7,381.1 L491.9,378.9 Z" fill="#1a1a1a"/>
<path d="M601.9,346.4 L605.5,349.5" stroke="#2a2a2a" stroke-width="0.7"/>
<path d="M607.1,350.9 L604.1,350.3 L606.3,348.1 Z" fill="#1a1a1a"/>
<path d="M633.2,372.1 L636.8,375.2" stroke="#2a2a2a" stroke-width="0.7"/>
<path d="M638.4,376.6 L635.4,376.0 L637.6,373.8 Z" fill="#1a1a1a"/>
<path d="M587.7,395.4 L591.3,398.5" stroke="#2a2a2a" stroke-width="0.7"/>
<path d="M592.9,399.9 L589.9,399.3 L592.1,397.1 Z" fill="#1a1a1a"/>
<path d="M603.3,392.6 L606.9,395.7" stroke="#2a2a2a" stroke-width="0.7"/>
<path d="M608.5,397.1 L605.5,396.5 L607.7,394.3 Z" fill="#1a1a1a"/>
<path d="M393.1,430.1 L396.7,433.2" stroke="#2a2a2a" stroke-width="0.7"/>
<path d="M398.3,434.6 L395.3,434.0 L397.5,431.8 Z" fill="#1a1a1a"/>
<path d="M396.8,452.9 L400.4,456.0" stroke="#2a2a2a" stroke-width="0.7"/>
<path d="M402.0,457.4 L399.0,456.8 L401.2,454.6 Z" fill="#1a1a1a"/>
<path d="M392.2,461.4 L395.8,464.5" stroke="#2a2a2a" stroke-width="0.7"/>
<path d="M397.4,465.9 L394.4,465.3 L396.6,463.1 Z" fill="#1a1a1a"/>
<path d="M414.5,464.3 L418.1,467.4" stroke="#2a2a2a" stroke-width="0.7"/>
<path d="M419.7,468.8 L416.7,468.2 L418.9,466.0 Z" fill="#1a1a1a"/>
<path d="M573.5,417.3 L577.1,420.4" stroke="#2a2a2a" stroke-width="0.7"/>
<path d="M578.7,421.8 L575.7,421.2 L577.9,419.0 Z" fill="#1a1a1a"/>
<path d="M604.2,422.1 L607.8,425.2" stroke="#2a2a2a" stroke-width="0.7"/>
<path d="M609.4,426.6 L606.4,426.0 L608.6,423.8 Z" fill="#1a1a1a"/>
<path d="M570.0,442.9 L573.6,446.0" stroke="#2a2a2a" stroke-width="0.7"/>
<path d="M575.2,447.4 L572.2,446.8 L574.4,444.6 Z" fill="#1a1a1a"/>
<path d="M593.9,444.3 L597.5,447.4" stroke="#2a2a2a" stroke-width="0.7"/>
<path d="M599.1,448.8 L596.1,448.2 L598.3,446.0 Z" fill="#1a1a1a"/>
<path d="M626.1,463.4 L629.7,466.5" stroke="#2a2a2a" stroke-width="0.7"/>
<path d="M631.3,467.9 L628.3,467.3 L630.5,465.1 Z" fill="#1a1a1a"/>
<path d="M299.2,507.9 L302.8,511.0" stroke="#2a2a2a" stroke-width="0.7"/>
<path d="M304.4,512.4 L301.4,511.8 L303.6,509.6 Z" fill="#1a1a1a"/>
<path d="M319.7,522.2 L323.3,525.3" stroke="#2a2a2a" stroke-width="0.7"/>
<path d="M324.9,526.7 L321.9,526.1 L324.1,523.9 Z" fill="#1a1a1a"/>
<path d="M384.6,490.6 L388.2,493.7" stroke="#2a2a2a" stroke-width="0.7"/>
<path d="M389.8,495.1 L386.8,494.5 L389.0,492.3 Z" fill="#1a1a1a"/>
<path d="M406.8,494.8 L410.4,497.9" stroke="#2a2a2a" stroke-width="0.7"/>
<path d="M412.0,499.3 L409.0,498.7 L411.2,496.5 Z" fill="#1a1a1a"/>
<path d="M435.8,492.8 L439.4,495.9" stroke="#2a2a2a" stroke-width="0.7"/>
<path d="M441.0,497.3 L438.0,496.7 L440.2,494.5 Z" fill="#1a1a1a"/>
<path d="M378.3,512.8 L381.9,515.9" stroke="#2a2a2a" stroke-width="0.7"/>
<path d="M383.5,517.3 L380.5,516.7 L382.7,514.5 Z" fill="#1a1a1a"/>
<path d="M405.3,518.5 L408.9,521.6" stroke="#2a2a2a" stroke-width="0.7"/>
<path d="M410.5,523.0 L407.5,522.4 L409.7,520.2 Z" fill="#1a1a1a"/>
<path d="M354.7,527.6 L358.3,530.7" stroke="#2a2a2a" stroke-width="0.7"/>
<path d="M359.9,532.1 L356.9,531.5 L359.1,529.3 Z" fill="#1a1a1a"/>
<path d="M455.3,499.1 L458.9,502.2" stroke="#2a2a2a" stroke-width="0.7"/>
<path d="M460.5,503.6 L457.5,503.0 L459.7,500.8 Z" fill="#1a1a1a"/>
<path d="M467.6,492.3 L471.2,495.4" stroke="#2a2a2a" stroke-width="0.7"/>
<path d="M472.8,496.8 L469.8,496.2 L472.0,494.0 Z" fill="#1a1a1a"/>
<path d="M491.8,489.4 L495.4,492.5" stroke="#2a2a2a" stroke-width="0.7"/>
<path d="M497.0,493.9 L494.0,493.3 L496.2,491.1 Z" fill="#1a1a1a"/>
<path d="M481.5,512.2 L485.1,515.3" stroke="#2a2a2a" stroke-width="0.7"/>
<path d="M486.7,516.7 L483.7,516.1 L485.9,513.9 Z" fill="#1a1a1a"/>
<path d="M550.7,486.3 L554.3,489.4" stroke="#2a2a2a" stroke-width="0.7"/>
<path d="M555.9,490.8 L552.9,490.2 L555.1,488.0 Z" fill="#1a1a1a"/>
<path d="M589.1,482.3 L592.7,485.4" stroke="#2a2a2a" stroke-width="0.7"/>
<path d="M594.3,486.8 L591.3,486.2 L593.5,484.0 Z" fill="#1a1a1a"/>
<path d="M605.3,484.3 L608.9,487.4" stroke="#2a2a2a" stroke-width="0.7"/>
<path d="M610.5,488.8 L607.5,488.2 L609.7,486.0 Z" fill="#1a1a1a"/>
<path d="M572.6,497.1 L576.2,500.2" stroke="#2a2a2a" stroke-width="0.7"/>
<path d="M577.8,501.6 L574.8,501.0 L577.0,498.8 Z" fill="#1a1a1a"/>
<path d="M601.9,499.1 L605.5,502.2" stroke="#2a2a2a" stroke-width="0.7"/>
<path d="M607.1,503.6 L604.1,503.0 L606.3,500.8 Z" fill="#1a1a1a"/>
<path d="M612.7,496.2 L616.3,499.3" stroke="#2a2a2a" stroke-width="0.7"/>
<path d="M617.9,500.7 L614.9,500.1 L617.1,497.9 Z" fill="#1a1a1a"/>
<text x="0.0" y="601.8" font-size="11.5" text-anchor="start" font-weight="bold" fill="#000" >E</text>
<line x1="60.70" y1="621.20" x2="60.70" y2="783.20" stroke="#444" stroke-width="1.1" />
<line x1="60.70" y1="783.20" x2="313.60" y2="783.20" stroke="#444" stroke-width="1.1" />
<line x1="57.00" y1="783.20" x2="60.70" y2="783.20" stroke="#444" stroke-width="1" />
<text x="51.2" y="787.0" font-size="10.8" text-anchor="end" font-weight="bold" fill="#000" >0</text>
<line x1="57.00" y1="750.94" x2="60.70" y2="750.94" stroke="#444" stroke-width="1" />
<text x="51.2" y="754.7" font-size="10.8" text-anchor="end" font-weight="bold" fill="#000" >200</text>
<line x1="57.00" y1="718.68" x2="60.70" y2="718.68" stroke="#444" stroke-width="1" />
<text x="51.2" y="722.5" font-size="10.8" text-anchor="end" font-weight="bold" fill="#000" >400</text>
<line x1="57.00" y1="686.42" x2="60.70" y2="686.42" stroke="#444" stroke-width="1" />
<text x="51.2" y="690.2" font-size="10.8" text-anchor="end" font-weight="bold" fill="#000" >600</text>
<line x1="57.00" y1="654.16" x2="60.70" y2="654.16" stroke="#444" stroke-width="1" />
<text x="51.2" y="658.0" font-size="10.8" text-anchor="end" font-weight="bold" fill="#000" >800</text>
<line x1="57.00" y1="621.90" x2="60.70" y2="621.90" stroke="#444" stroke-width="1" />
<text x="51.2" y="625.7" font-size="10.8" text-anchor="end" font-weight="bold" fill="#000" >1000</text>
<line x1="60.70" y1="783.20" x2="60.70" y2="786.70" stroke="#444" stroke-width="1" />
<text x="62.0" y="799.6" font-size="10.6" text-anchor="middle" font-weight="bold" fill="#000" >0</text>
<line x1="82.65" y1="783.20" x2="82.65" y2="786.70" stroke="#444" stroke-width="1" />
<text x="84.0" y="799.6" font-size="10.6" text-anchor="middle" font-weight="bold" fill="#000" >10</text>
<line x1="104.60" y1="783.20" x2="104.60" y2="786.70" stroke="#444" stroke-width="1" />
<text x="105.9" y="799.6" font-size="10.6" text-anchor="middle" font-weight="bold" fill="#000" >20</text>
<line x1="126.55" y1="783.20" x2="126.55" y2="786.70" stroke="#444" stroke-width="1" />
<text x="127.8" y="799.6" font-size="10.6" text-anchor="middle" font-weight="bold" fill="#000" >30</text>
<line x1="148.50" y1="783.20" x2="148.50" y2="786.70" stroke="#444" stroke-width="1" />
<text x="149.8" y="799.6" font-size="10.6" text-anchor="middle" font-weight="bold" fill="#000" >40</text>
<line x1="170.45" y1="783.20" x2="170.45" y2="786.70" stroke="#444" stroke-width="1" />
<text x="171.8" y="799.6" font-size="10.6" text-anchor="middle" font-weight="bold" fill="#000" >50</text>
<line x1="192.40" y1="783.20" x2="192.40" y2="786.70" stroke="#444" stroke-width="1" />
<text x="193.7" y="799.6" font-size="10.6" text-anchor="middle" font-weight="bold" fill="#000" >60</text>
<line x1="214.35" y1="783.20" x2="214.35" y2="786.70" stroke="#444" stroke-width="1" />
<text x="215.6" y="799.6" font-size="10.6" text-anchor="middle" font-weight="bold" fill="#000" >70</text>
<line x1="236.30" y1="783.20" x2="236.30" y2="786.70" stroke="#444" stroke-width="1" />
<text x="237.6" y="799.6" font-size="10.6" text-anchor="middle" font-weight="bold" fill="#000" >80</text>
<line x1="258.25" y1="783.20" x2="258.25" y2="786.70" stroke="#444" stroke-width="1" />
<text x="259.6" y="799.6" font-size="10.6" text-anchor="middle" font-weight="bold" fill="#000" >90</text>
<line x1="280.20" y1="783.20" x2="280.20" y2="786.70" stroke="#444" stroke-width="1" />
<text x="281.5" y="799.6" font-size="10.6" text-anchor="middle" font-weight="bold" fill="#000" >100</text>
<line x1="302.15" y1="783.20" x2="302.15" y2="786.70" stroke="#444" stroke-width="1" />
<text x="303.4" y="799.6" font-size="10.6" text-anchor="middle" font-weight="bold" fill="#000" >110</text>
<text x="192.2" y="814.4" font-size="12" text-anchor="middle" font-weight="bold" fill="#000" >Days</text>
<text transform="translate(24.6,691.3) rotate(-90)" font-size="12.3" font-weight="bold" text-anchor="middle">Tumor volume (mm3)</text>
<path d="M103.7,730.9 L107.5,730.9 L107.5,741.9 L110.3,741.9 L105.6,748.9 L100.8,741.9 L103.7,741.9 Z" fill="#000"/>
<line x1="88.40" y1="781.00" x2="88.40" y2="783.00" stroke="#8a8a8a" stroke-width="0.8" />
<line x1="85.40" y1="781.00" x2="91.40" y2="781.00" stroke="#8a8a8a" stroke-width="0.8" />
<line x1="85.40" y1="783.00" x2="91.40" y2="783.00" stroke="#8a8a8a" stroke-width="0.8" />
<line x1="97.00" y1="777.50" x2="97.00" y2="781.50" stroke="#8a8a8a" stroke-width="0.8" />
<line x1="94.00" y1="777.50" x2="100.00" y2="777.50" stroke="#8a8a8a" stroke-width="0.8" />
<line x1="94.00" y1="781.50" x2="100.00" y2="781.50" stroke="#8a8a8a" stroke-width="0.8" />
<line x1="103.70" y1="773.00" x2="103.70" y2="779.00" stroke="#8a8a8a" stroke-width="0.8" />
<line x1="100.70" y1="773.00" x2="106.70" y2="773.00" stroke="#8a8a8a" stroke-width="0.8" />
<line x1="100.70" y1="779.00" x2="106.70" y2="779.00" stroke="#8a8a8a" stroke-width="0.8" />
<line x1="110.30" y1="767.00" x2="110.30" y2="775.00" stroke="#8a8a8a" stroke-width="0.8" />
<line x1="107.30" y1="767.00" x2="113.30" y2="767.00" stroke="#8a8a8a" stroke-width="0.8" />
<line x1="107.30" y1="775.00" x2="113.30" y2="775.00" stroke="#8a8a8a" stroke-width="0.8" />
<line x1="118.90" y1="758.70" x2="118.90" y2="766.70" stroke="#8a8a8a" stroke-width="0.8" />
<line x1="115.90" y1="758.70" x2="121.90" y2="758.70" stroke="#8a8a8a" stroke-width="0.8" />
<line x1="115.90" y1="766.70" x2="121.90" y2="766.70" stroke="#8a8a8a" stroke-width="0.8" />
<line x1="125.90" y1="753.20" x2="125.90" y2="765.20" stroke="#8a8a8a" stroke-width="0.8" />
<line x1="122.90" y1="753.20" x2="128.90" y2="753.20" stroke="#8a8a8a" stroke-width="0.8" />
<line x1="122.90" y1="765.20" x2="128.90" y2="765.20" stroke="#8a8a8a" stroke-width="0.8" />
<line x1="134.70" y1="735.60" x2="134.70" y2="749.60" stroke="#8a8a8a" stroke-width="0.8" />
<line x1="131.70" y1="735.60" x2="137.70" y2="735.60" stroke="#8a8a8a" stroke-width="0.8" />
<line x1="131.70" y1="749.60" x2="137.70" y2="749.60" stroke="#8a8a8a" stroke-width="0.8" />
<line x1="141.00" y1="717.70" x2="141.00" y2="737.70" stroke="#8a8a8a" stroke-width="0.8" />
<line x1="138.00" y1="717.70" x2="144.00" y2="717.70" stroke="#8a8a8a" stroke-width="0.8" />
<line x1="138.00" y1="737.70" x2="144.00" y2="737.70" stroke="#8a8a8a" stroke-width="0.8" />
<line x1="149.70" y1="700.40" x2="149.70" y2="722.40" stroke="#8a8a8a" stroke-width="0.8" />
<line x1="146.70" y1="700.40" x2="152.70" y2="700.40" stroke="#8a8a8a" stroke-width="0.8" />
<line x1="146.70" y1="722.40" x2="152.70" y2="722.40" stroke="#8a8a8a" stroke-width="0.8" />
<line x1="156.60" y1="700.10" x2="156.60" y2="720.10" stroke="#8a8a8a" stroke-width="0.8" />
<line x1="153.60" y1="700.10" x2="159.60" y2="700.10" stroke="#8a8a8a" stroke-width="0.8" />
<line x1="153.60" y1="720.10" x2="159.60" y2="720.10" stroke="#8a8a8a" stroke-width="0.8" />
<line x1="165.00" y1="686.60" x2="165.00" y2="704.60" stroke="#8a8a8a" stroke-width="0.8" />
<line x1="162.00" y1="686.60" x2="168.00" y2="686.60" stroke="#8a8a8a" stroke-width="0.8" />
<line x1="162.00" y1="704.60" x2="168.00" y2="704.60" stroke="#8a8a8a" stroke-width="0.8" />
<line x1="171.40" y1="699.70" x2="171.40" y2="721.70" stroke="#8a8a8a" stroke-width="0.8" />
<line x1="168.40" y1="699.70" x2="174.40" y2="699.70" stroke="#8a8a8a" stroke-width="0.8" />
<line x1="168.40" y1="721.70" x2="174.40" y2="721.70" stroke="#8a8a8a" stroke-width="0.8" />
<line x1="180.80" y1="660.20" x2="180.80" y2="678.20" stroke="#8a8a8a" stroke-width="0.8" />
<line x1="177.80" y1="660.20" x2="183.80" y2="660.20" stroke="#8a8a8a" stroke-width="0.8" />
<line x1="177.80" y1="678.20" x2="183.80" y2="678.20" stroke="#8a8a8a" stroke-width="0.8" />
<line x1="187.20" y1="635.70" x2="187.20" y2="653.70" stroke="#8a8a8a" stroke-width="0.8" />
<line x1="184.20" y1="635.70" x2="190.20" y2="635.70" stroke="#8a8a8a" stroke-width="0.8" />
<line x1="184.20" y1="653.70" x2="190.20" y2="653.70" stroke="#8a8a8a" stroke-width="0.8" />
<line x1="97.00" y1="777.50" x2="97.00" y2="781.50" stroke="#8a8a8a" stroke-width="0.8" />
<line x1="94.00" y1="777.50" x2="100.00" y2="777.50" stroke="#8a8a8a" stroke-width="0.8" />
<line x1="94.00" y1="781.50" x2="100.00" y2="781.50" stroke="#8a8a8a" stroke-width="0.8" />
<line x1="103.70" y1="773.80" x2="103.70" y2="777.80" stroke="#8a8a8a" stroke-width="0.8" />
<line x1="100.70" y1="773.80" x2="106.70" y2="773.80" stroke="#8a8a8a" stroke-width="0.8" />
<line x1="100.70" y1="777.80" x2="106.70" y2="777.80" stroke="#8a8a8a" stroke-width="0.8" />
<line x1="110.30" y1="767.90" x2="110.30" y2="773.90" stroke="#8a8a8a" stroke-width="0.8" />
<line x1="107.30" y1="767.90" x2="113.30" y2="767.90" stroke="#8a8a8a" stroke-width="0.8" />
<line x1="107.30" y1="773.90" x2="113.30" y2="773.90" stroke="#8a8a8a" stroke-width="0.8" />
<line x1="118.90" y1="758.40" x2="118.90" y2="766.40" stroke="#8a8a8a" stroke-width="0.8" />
<line x1="115.90" y1="758.40" x2="121.90" y2="758.40" stroke="#8a8a8a" stroke-width="0.8" />
<line x1="115.90" y1="766.40" x2="121.90" y2="766.40" stroke="#8a8a8a" stroke-width="0.8" />
<line x1="125.90" y1="757.50" x2="125.90" y2="765.50" stroke="#8a8a8a" stroke-width="0.8" />
<line x1="122.90" y1="757.50" x2="128.90" y2="757.50" stroke="#8a8a8a" stroke-width="0.8" />
<line x1="122.90" y1="765.50" x2="128.90" y2="765.50" stroke="#8a8a8a" stroke-width="0.8" />
<line x1="134.70" y1="747.20" x2="134.70" y2="757.20" stroke="#8a8a8a" stroke-width="0.8" />
<line x1="131.70" y1="747.20" x2="137.70" y2="747.20" stroke="#8a8a8a" stroke-width="0.8" />
<line x1="131.70" y1="757.20" x2="137.70" y2="757.20" stroke="#8a8a8a" stroke-width="0.8" />
<line x1="141.00" y1="742.50" x2="141.00" y2="752.50" stroke="#8a8a8a" stroke-width="0.8" />
<line x1="138.00" y1="742.50" x2="144.00" y2="742.50" stroke="#8a8a8a" stroke-width="0.8" />
<line x1="138.00" y1="752.50" x2="144.00" y2="752.50" stroke="#8a8a8a" stroke-width="0.8" />
<line x1="149.70" y1="734.90" x2="149.70" y2="744.90" stroke="#8a8a8a" stroke-width="0.8" />
<line x1="146.70" y1="734.90" x2="152.70" y2="734.90" stroke="#8a8a8a" stroke-width="0.8" />
<line x1="146.70" y1="744.90" x2="152.70" y2="744.90" stroke="#8a8a8a" stroke-width="0.8" />
<line x1="156.60" y1="734.10" x2="156.60" y2="744.10" stroke="#8a8a8a" stroke-width="0.8" />
<line x1="153.60" y1="734.10" x2="159.60" y2="734.10" stroke="#8a8a8a" stroke-width="0.8" />
<line x1="153.60" y1="744.10" x2="159.60" y2="744.10" stroke="#8a8a8a" stroke-width="0.8" />
<line x1="165.00" y1="727.40" x2="165.00" y2="739.40" stroke="#8a8a8a" stroke-width="0.8" />
<line x1="162.00" y1="727.40" x2="168.00" y2="727.40" stroke="#8a8a8a" stroke-width="0.8" />
<line x1="162.00" y1="739.40" x2="168.00" y2="739.40" stroke="#8a8a8a" stroke-width="0.8" />
<line x1="171.40" y1="714.90" x2="171.40" y2="728.90" stroke="#8a8a8a" stroke-width="0.8" />
<line x1="168.40" y1="714.90" x2="174.40" y2="714.90" stroke="#8a8a8a" stroke-width="0.8" />
<line x1="168.40" y1="728.90" x2="174.40" y2="728.90" stroke="#8a8a8a" stroke-width="0.8" />
<line x1="180.20" y1="684.00" x2="180.20" y2="703.00" stroke="#8a8a8a" stroke-width="0.8" />
<line x1="177.20" y1="684.00" x2="183.20" y2="684.00" stroke="#8a8a8a" stroke-width="0.8" />
<line x1="177.20" y1="703.00" x2="183.20" y2="703.00" stroke="#8a8a8a" stroke-width="0.8" />
<line x1="186.90" y1="681.00" x2="186.90" y2="704.20" stroke="#8a8a8a" stroke-width="0.8" />
<line x1="183.90" y1="681.00" x2="189.90" y2="681.00" stroke="#8a8a8a" stroke-width="0.8" />
<line x1="183.90" y1="704.20" x2="189.90" y2="704.20" stroke="#8a8a8a" stroke-width="0.8" />
<line x1="195.60" y1="622.00" x2="195.60" y2="669.00" stroke="#8a8a8a" stroke-width="0.8" />
<line x1="192.60" y1="622.00" x2="198.60" y2="622.00" stroke="#8a8a8a" stroke-width="0.8" />
<line x1="192.60" y1="669.00" x2="198.60" y2="669.00" stroke="#8a8a8a" stroke-width="0.8" />
<line x1="88.40" y1="781.00" x2="88.40" y2="783.00" stroke="#8a8a8a" stroke-width="0.8" />
<line x1="85.40" y1="781.00" x2="91.40" y2="781.00" stroke="#8a8a8a" stroke-width="0.8" />
<line x1="85.40" y1="783.00" x2="91.40" y2="783.00" stroke="#8a8a8a" stroke-width="0.8" />
<line x1="97.00" y1="777.30" x2="97.00" y2="781.30" stroke="#8a8a8a" stroke-width="0.8" />
<line x1="94.00" y1="777.30" x2="100.00" y2="777.30" stroke="#8a8a8a" stroke-width="0.8" />
<line x1="94.00" y1="781.30" x2="100.00" y2="781.30" stroke="#8a8a8a" stroke-width="0.8" />
<line x1="103.70" y1="774.20" x2="103.70" y2="778.20" stroke="#8a8a8a" stroke-width="0.8" />
<line x1="100.70" y1="774.20" x2="106.70" y2="774.20" stroke="#8a8a8a" stroke-width="0.8" />
<line x1="100.70" y1="778.20" x2="106.70" y2="778.20" stroke="#8a8a8a" stroke-width="0.8" />
<line x1="110.30" y1="771.10" x2="110.30" y2="777.10" stroke="#8a8a8a" stroke-width="0.8" />
<line x1="107.30" y1="771.10" x2="113.30" y2="771.10" stroke="#8a8a8a" stroke-width="0.8" />
<line x1="107.30" y1="777.10" x2="113.30" y2="777.10" stroke="#8a8a8a" stroke-width="0.8" />
<line x1="119.40" y1="760.50" x2="119.40" y2="768.50" stroke="#8a8a8a" stroke-width="0.8" />
<line x1="116.40" y1="760.50" x2="122.40" y2="760.50" stroke="#8a8a8a" stroke-width="0.8" />
<line x1="116.40" y1="768.50" x2="122.40" y2="768.50" stroke="#8a8a8a" stroke-width="0.8" />
<line x1="125.90" y1="762.20" x2="125.90" y2="770.20" stroke="#8a8a8a" stroke-width="0.8" />
<line x1="122.90" y1="762.20" x2="128.90" y2="762.20" stroke="#8a8a8a" stroke-width="0.8" />
<line x1="122.90" y1="770.20" x2="128.90" y2="770.20" stroke="#8a8a8a" stroke-width="0.8" />
<line x1="134.70" y1="752.60" x2="134.70" y2="760.60" stroke="#8a8a8a" stroke-width="0.8" />
<line x1="131.70" y1="752.60" x2="137.70" y2="752.60" stroke="#8a8a8a" stroke-width="0.8" />
<line x1="131.70" y1="760.60" x2="137.70" y2="760.60" stroke="#8a8a8a" stroke-width="0.8" />
<line x1="141.00" y1="752.60" x2="141.00" y2="760.60" stroke="#8a8a8a" stroke-width="0.8" />
<line x1="138.00" y1="752.60" x2="144.00" y2="752.60" stroke="#8a8a8a" stroke-width="0.8" />
<line x1="138.00" y1="760.60" x2="144.00" y2="760.60" stroke="#8a8a8a" stroke-width="0.8" />
<line x1="149.70" y1="739.70" x2="149.70" y2="749.70" stroke="#8a8a8a" stroke-width="0.8" />
<line x1="146.70" y1="739.70" x2="152.70" y2="739.70" stroke="#8a8a8a" stroke-width="0.8" />
<line x1="146.70" y1="749.70" x2="152.70" y2="749.70" stroke="#8a8a8a" stroke-width="0.8" />
<line x1="156.60" y1="739.00" x2="156.60" y2="749.00" stroke="#8a8a8a" stroke-width="0.8" />
<line x1="153.60" y1="739.00" x2="159.60" y2="739.00" stroke="#8a8a8a" stroke-width="0.8" />
<line x1="153.60" y1="749.00" x2="159.60" y2="749.00" stroke="#8a8a8a" stroke-width="0.8" />
<line x1="165.00" y1="731.70" x2="165.00" y2="743.70" stroke="#8a8a8a" stroke-width="0.8" />
<line x1="162.00" y1="731.70" x2="168.00" y2="731.70" stroke="#8a8a8a" stroke-width="0.8" />
<line x1="162.00" y1="743.70" x2="168.00" y2="743.70" stroke="#8a8a8a" stroke-width="0.8" />
<line x1="171.40" y1="728.10" x2="171.40" y2="740.10" stroke="#8a8a8a" stroke-width="0.8" />
<line x1="168.40" y1="728.10" x2="174.40" y2="728.10" stroke="#8a8a8a" stroke-width="0.8" />
<line x1="168.40" y1="740.10" x2="174.40" y2="740.10" stroke="#8a8a8a" stroke-width="0.8" />
<line x1="180.20" y1="696.40" x2="180.20" y2="714.40" stroke="#8a8a8a" stroke-width="0.8" />
<line x1="177.20" y1="696.40" x2="183.20" y2="696.40" stroke="#8a8a8a" stroke-width="0.8" />
<line x1="177.20" y1="714.40" x2="183.20" y2="714.40" stroke="#8a8a8a" stroke-width="0.8" />
<line x1="186.90" y1="681.80" x2="186.90" y2="701.80" stroke="#8a8a8a" stroke-width="0.8" />
<line x1="183.90" y1="681.80" x2="189.90" y2="681.80" stroke="#8a8a8a" stroke-width="0.8" />
<line x1="183.90" y1="701.80" x2="189.90" y2="701.80" stroke="#8a8a8a" stroke-width="0.8" />
<line x1="195.60" y1="686.10" x2="195.60" y2="726.10" stroke="#8a8a8a" stroke-width="0.8" />
<line x1="192.60" y1="686.10" x2="198.60" y2="686.10" stroke="#8a8a8a" stroke-width="0.8" />
<line x1="192.60" y1="726.10" x2="198.60" y2="726.10" stroke="#8a8a8a" stroke-width="0.8" />
<line x1="200.60" y1="676.60" x2="200.60" y2="697.80" stroke="#8a8a8a" stroke-width="0.8" />
<line x1="197.60" y1="676.60" x2="203.60" y2="676.60" stroke="#8a8a8a" stroke-width="0.8" />
<line x1="197.60" y1="697.80" x2="203.60" y2="697.80" stroke="#8a8a8a" stroke-width="0.8" />
<line x1="208.90" y1="670.10" x2="208.90" y2="694.90" stroke="#8a8a8a" stroke-width="0.8" />
<line x1="205.90" y1="670.10" x2="211.90" y2="670.10" stroke="#8a8a8a" stroke-width="0.8" />
<line x1="205.90" y1="694.90" x2="211.90" y2="694.90" stroke="#8a8a8a" stroke-width="0.8" />
<line x1="88.40" y1="781.00" x2="88.40" y2="783.00" stroke="#8a8a8a" stroke-width="0.8" />
<line x1="85.40" y1="781.00" x2="91.40" y2="781.00" stroke="#8a8a8a" stroke-width="0.8" />
<line x1="85.40" y1="783.00" x2="91.40" y2="783.00" stroke="#8a8a8a" stroke-width="0.8" />
<line x1="97.00" y1="778.20" x2="97.00" y2="782.20" stroke="#8a8a8a" stroke-width="0.8" />
<line x1="94.00" y1="778.20" x2="100.00" y2="778.20" stroke="#8a8a8a" stroke-width="0.8" />
<line x1="94.00" y1="782.20" x2="100.00" y2="782.20" stroke="#8a8a8a" stroke-width="0.8" />
<line x1="103.70" y1="774.70" x2="103.70" y2="778.70" stroke="#8a8a8a" stroke-width="0.8" />
<line x1="100.70" y1="774.70" x2="106.70" y2="774.70" stroke="#8a8a8a" stroke-width="0.8" />
<line x1="100.70" y1="778.70" x2="106.70" y2="778.70" stroke="#8a8a8a" stroke-width="0.8" />
<line x1="110.30" y1="772.80" x2="110.30" y2="778.80" stroke="#8a8a8a" stroke-width="0.8" />
<line x1="107.30" y1="772.80" x2="113.30" y2="772.80" stroke="#8a8a8a" stroke-width="0.8" />
<line x1="107.30" y1="778.80" x2="113.30" y2="778.80" stroke="#8a8a8a" stroke-width="0.8" />
<line x1="119.40" y1="764.10" x2="119.40" y2="770.10" stroke="#8a8a8a" stroke-width="0.8" />
<line x1="116.40" y1="764.10" x2="122.40" y2="764.10" stroke="#8a8a8a" stroke-width="0.8" />
<line x1="116.40" y1="770.10" x2="122.40" y2="770.10" stroke="#8a8a8a" stroke-width="0.8" />
<line x1="125.90" y1="767.10" x2="125.90" y2="773.10" stroke="#8a8a8a" stroke-width="0.8" />
<line x1="122.90" y1="767.10" x2="128.90" y2="767.10" stroke="#8a8a8a" stroke-width="0.8" />
<line x1="122.90" y1="773.10" x2="128.90" y2="773.10" stroke="#8a8a8a" stroke-width="0.8" />
<line x1="134.70" y1="762.00" x2="134.70" y2="768.00" stroke="#8a8a8a" stroke-width="0.8" />
<line x1="131.70" y1="762.00" x2="137.70" y2="762.00" stroke="#8a8a8a" stroke-width="0.8" />
<line x1="131.70" y1="768.00" x2="137.70" y2="768.00" stroke="#8a8a8a" stroke-width="0.8" />
<line x1="141.00" y1="762.00" x2="141.00" y2="768.00" stroke="#8a8a8a" stroke-width="0.8" />
<line x1="138.00" y1="762.00" x2="144.00" y2="762.00" stroke="#8a8a8a" stroke-width="0.8" />
<line x1="138.00" y1="768.00" x2="144.00" y2="768.00" stroke="#8a8a8a" stroke-width="0.8" />
<line x1="149.70" y1="753.60" x2="149.70" y2="759.60" stroke="#8a8a8a" stroke-width="0.8" />
<line x1="146.70" y1="753.60" x2="152.70" y2="753.60" stroke="#8a8a8a" stroke-width="0.8" />
<line x1="146.70" y1="759.60" x2="152.70" y2="759.60" stroke="#8a8a8a" stroke-width="0.8" />
<line x1="156.60" y1="757.60" x2="156.60" y2="763.60" stroke="#8a8a8a" stroke-width="0.8" />
<line x1="153.60" y1="757.60" x2="159.60" y2="757.60" stroke="#8a8a8a" stroke-width="0.8" />
<line x1="153.60" y1="763.60" x2="159.60" y2="763.60" stroke="#8a8a8a" stroke-width="0.8" />
<line x1="165.00" y1="750.10" x2="165.00" y2="756.10" stroke="#8a8a8a" stroke-width="0.8" />
<line x1="162.00" y1="750.10" x2="168.00" y2="750.10" stroke="#8a8a8a" stroke-width="0.8" />
<line x1="162.00" y1="756.10" x2="168.00" y2="756.10" stroke="#8a8a8a" stroke-width="0.8" />
<line x1="171.40" y1="751.50" x2="171.40" y2="757.50" stroke="#8a8a8a" stroke-width="0.8" />
<line x1="168.40" y1="751.50" x2="174.40" y2="751.50" stroke="#8a8a8a" stroke-width="0.8" />
<line x1="168.40" y1="757.50" x2="174.40" y2="757.50" stroke="#8a8a8a" stroke-width="0.8" />
<line x1="180.20" y1="738.20" x2="180.20" y2="746.20" stroke="#8a8a8a" stroke-width="0.8" />
<line x1="177.20" y1="738.20" x2="183.20" y2="738.20" stroke="#8a8a8a" stroke-width="0.8" />
<line x1="177.20" y1="746.20" x2="183.20" y2="746.20" stroke="#8a8a8a" stroke-width="0.8" />
<line x1="186.90" y1="733.00" x2="186.90" y2="741.00" stroke="#8a8a8a" stroke-width="0.8" />
<line x1="183.90" y1="733.00" x2="189.90" y2="733.00" stroke="#8a8a8a" stroke-width="0.8" />
<line x1="183.90" y1="741.00" x2="189.90" y2="741.00" stroke="#8a8a8a" stroke-width="0.8" />
<line x1="195.60" y1="728.20" x2="195.60" y2="736.20" stroke="#8a8a8a" stroke-width="0.8" />
<line x1="192.60" y1="728.20" x2="198.60" y2="728.20" stroke="#8a8a8a" stroke-width="0.8" />
<line x1="192.60" y1="736.20" x2="198.60" y2="736.20" stroke="#8a8a8a" stroke-width="0.8" />
<line x1="200.60" y1="729.00" x2="200.60" y2="737.00" stroke="#8a8a8a" stroke-width="0.8" />
<line x1="197.60" y1="729.00" x2="203.60" y2="729.00" stroke="#8a8a8a" stroke-width="0.8" />
<line x1="197.60" y1="737.00" x2="203.60" y2="737.00" stroke="#8a8a8a" stroke-width="0.8" />
<line x1="208.90" y1="729.00" x2="208.90" y2="737.00" stroke="#8a8a8a" stroke-width="0.8" />
<line x1="205.90" y1="729.00" x2="211.90" y2="729.00" stroke="#8a8a8a" stroke-width="0.8" />
<line x1="205.90" y1="737.00" x2="211.90" y2="737.00" stroke="#8a8a8a" stroke-width="0.8" />
<line x1="215.80" y1="723.00" x2="215.80" y2="733.00" stroke="#8a8a8a" stroke-width="0.8" />
<line x1="212.80" y1="723.00" x2="218.80" y2="723.00" stroke="#8a8a8a" stroke-width="0.8" />
<line x1="212.80" y1="733.00" x2="218.80" y2="733.00" stroke="#8a8a8a" stroke-width="0.8" />
<line x1="224.70" y1="719.20" x2="224.70" y2="729.20" stroke="#8a8a8a" stroke-width="0.8" />
<line x1="221.70" y1="719.20" x2="227.70" y2="719.20" stroke="#8a8a8a" stroke-width="0.8" />
<line x1="221.70" y1="729.20" x2="227.70" y2="729.20" stroke="#8a8a8a" stroke-width="0.8" />
<line x1="231.10" y1="719.70" x2="231.10" y2="729.70" stroke="#8a8a8a" stroke-width="0.8" />
<line x1="228.10" y1="719.70" x2="234.10" y2="719.70" stroke="#8a8a8a" stroke-width="0.8" />
<line x1="228.10" y1="729.70" x2="234.10" y2="729.70" stroke="#8a8a8a" stroke-width="0.8" />
<line x1="240.00" y1="716.10" x2="240.00" y2="726.10" stroke="#8a8a8a" stroke-width="0.8" />
<line x1="237.00" y1="716.10" x2="243.00" y2="716.10" stroke="#8a8a8a" stroke-width="0.8" />
<line x1="237.00" y1="726.10" x2="243.00" y2="726.10" stroke="#8a8a8a" stroke-width="0.8" />
<line x1="248.90" y1="719.70" x2="248.90" y2="729.70" stroke="#8a8a8a" stroke-width="0.8" />
<line x1="245.90" y1="719.70" x2="251.90" y2="719.70" stroke="#8a8a8a" stroke-width="0.8" />
<line x1="245.90" y1="729.70" x2="251.90" y2="729.70" stroke="#8a8a8a" stroke-width="0.8" />
<line x1="257.20" y1="715.40" x2="257.20" y2="727.40" stroke="#8a8a8a" stroke-width="0.8" />
<line x1="254.20" y1="715.40" x2="260.20" y2="715.40" stroke="#8a8a8a" stroke-width="0.8" />
<line x1="254.20" y1="727.40" x2="260.20" y2="727.40" stroke="#8a8a8a" stroke-width="0.8" />
<line x1="264.20" y1="709.60" x2="264.20" y2="721.60" stroke="#8a8a8a" stroke-width="0.8" />
<line x1="261.20" y1="709.60" x2="267.20" y2="709.60" stroke="#8a8a8a" stroke-width="0.8" />
<line x1="261.20" y1="721.60" x2="267.20" y2="721.60" stroke="#8a8a8a" stroke-width="0.8" />
<line x1="272.80" y1="699.10" x2="272.80" y2="713.10" stroke="#8a8a8a" stroke-width="0.8" />
<line x1="269.80" y1="699.10" x2="275.80" y2="699.10" stroke="#8a8a8a" stroke-width="0.8" />
<line x1="269.80" y1="713.10" x2="275.80" y2="713.10" stroke="#8a8a8a" stroke-width="0.8" />
<line x1="279.70" y1="710.00" x2="279.70" y2="720.00" stroke="#8a8a8a" stroke-width="0.8" />
<line x1="276.70" y1="710.00" x2="282.70" y2="710.00" stroke="#8a8a8a" stroke-width="0.8" />
<line x1="276.70" y1="720.00" x2="282.70" y2="720.00" stroke="#8a8a8a" stroke-width="0.8" />
<line x1="283.60" y1="711.40" x2="283.60" y2="721.40" stroke="#8a8a8a" stroke-width="0.8" />
<line x1="280.60" y1="711.40" x2="286.60" y2="711.40" stroke="#8a8a8a" stroke-width="0.8" />
<line x1="280.60" y1="721.40" x2="286.60" y2="721.40" stroke="#8a8a8a" stroke-width="0.8" />
<line x1="292.20" y1="688.80" x2="292.20" y2="706.80" stroke="#8a8a8a" stroke-width="0.8" />
<line x1="289.20" y1="688.80" x2="295.20" y2="688.80" stroke="#8a8a8a" stroke-width="0.8" />
<line x1="289.20" y1="706.80" x2="295.20" y2="706.80" stroke="#8a8a8a" stroke-width="0.8" />
<line x1="298.90" y1="686.60" x2="298.90" y2="704.60" stroke="#8a8a8a" stroke-width="0.8" />
<line x1="295.90" y1="686.60" x2="301.90" y2="686.60" stroke="#8a8a8a" stroke-width="0.8" />
<line x1="295.90" y1="704.60" x2="301.90" y2="704.60" stroke="#8a8a8a" stroke-width="0.8" />
<line x1="305.80" y1="666.90" x2="305.80" y2="690.90" stroke="#8a8a8a" stroke-width="0.8" />
<line x1="302.80" y1="666.90" x2="308.80" y2="666.90" stroke="#8a8a8a" stroke-width="0.8" />
<line x1="302.80" y1="690.90" x2="308.80" y2="690.90" stroke="#8a8a8a" stroke-width="0.8" />
<line x1="312.20" y1="659.20" x2="312.20" y2="679.20" stroke="#8a8a8a" stroke-width="0.8" />
<line x1="309.20" y1="659.20" x2="315.20" y2="659.20" stroke="#8a8a8a" stroke-width="0.8" />
<line x1="309.20" y1="679.20" x2="315.20" y2="679.20" stroke="#8a8a8a" stroke-width="0.8" />
<polyline points="61.5,783.0 88.4,782.0 97.0,779.5 103.7,776.0 110.3,771.0 118.9,762.7 125.9,759.2 134.7,742.6 141.0,727.7 149.7,711.4 156.6,710.1 165.0,695.6 171.4,710.7 180.8,669.2 187.2,644.7" fill="none" stroke="#000" stroke-width="1.4" stroke-linejoin="round"/>
<circle cx="61.5" cy="783.0" r="2.3" fill="#000"/>
<circle cx="88.4" cy="782.0" r="2.3" fill="#000"/>
<circle cx="97.0" cy="779.5" r="2.3" fill="#000"/>
<circle cx="103.7" cy="776.0" r="2.3" fill="#000"/>
<circle cx="110.3" cy="771.0" r="2.3" fill="#000"/>
<circle cx="118.9" cy="762.7" r="2.3" fill="#000"/>
<circle cx="125.9" cy="759.2" r="2.3" fill="#000"/>
<circle cx="134.7" cy="742.6" r="2.3" fill="#000"/>
<circle cx="141.0" cy="727.7" r="2.3" fill="#000"/>
<circle cx="149.7" cy="711.4" r="2.3" fill="#000"/>
<circle cx="156.6" cy="710.1" r="2.3" fill="#000"/>
<circle cx="165.0" cy="695.6" r="2.3" fill="#000"/>
<circle cx="171.4" cy="710.7" r="2.3" fill="#000"/>
<circle cx="180.8" cy="669.2" r="2.3" fill="#000"/>
<circle cx="187.2" cy="644.7" r="2.3" fill="#000"/>
<polyline points="61.5,783.0 97.0,779.5 103.7,775.8 110.3,770.9 118.9,762.4 125.9,761.5 134.7,752.2 141.0,747.5 149.7,739.9 156.6,739.1 165.0,733.4 171.4,721.9 180.2,693.5 186.9,692.6 195.6,635.0" fill="none" stroke="#1fb45a" stroke-width="1.4" stroke-linejoin="round"/>
<circle cx="61.5" cy="783.0" r="2.3" fill="#1fb45a"/>
<circle cx="97.0" cy="779.5" r="2.3" fill="#1fb45a"/>
<circle cx="103.7" cy="775.8" r="2.3" fill="#1fb45a"/>
<circle cx="110.3" cy="770.9" r="2.3" fill="#1fb45a"/>
<circle cx="118.9" cy="762.4" r="2.3" fill="#1fb45a"/>
<circle cx="125.9" cy="761.5" r="2.3" fill="#1fb45a"/>
<circle cx="134.7" cy="752.2" r="2.3" fill="#1fb45a"/>
<circle cx="141.0" cy="747.5" r="2.3" fill="#1fb45a"/>
<circle cx="149.7" cy="739.9" r="2.3" fill="#1fb45a"/>
<circle cx="156.6" cy="739.1" r="2.3" fill="#1fb45a"/>
<circle cx="165.0" cy="733.4" r="2.3" fill="#1fb45a"/>
<circle cx="171.4" cy="721.9" r="2.3" fill="#1fb45a"/>
<circle cx="180.2" cy="693.5" r="2.3" fill="#1fb45a"/>
<circle cx="186.9" cy="692.6" r="2.3" fill="#1fb45a"/>
<circle cx="195.6" cy="635.0" r="2.3" fill="#1fb45a"/>
<polyline points="61.5,783.0 88.4,782.0 97.0,779.3 103.7,776.2 110.3,774.1 119.4,764.5 125.9,766.2 134.7,756.6 141.0,756.6 149.7,744.7 156.6,744.0 165.0,737.7 171.4,734.1 180.2,705.4 186.9,691.8 195.6,706.1 200.6,687.2 208.9,682.5" fill="none" stroke="#d84bd8" stroke-width="1.4" stroke-linejoin="round"/>
<circle cx="61.5" cy="783.0" r="2.3" fill="#d84bd8"/>
<circle cx="88.4" cy="782.0" r="2.3" fill="#d84bd8"/>
<circle cx="97.0" cy="779.3" r="2.3" fill="#d84bd8"/>
<circle cx="103.7" cy="776.2" r="2.3" fill="#d84bd8"/>
<circle cx="110.3" cy="774.1" r="2.3" fill="#d84bd8"/>
<circle cx="119.4" cy="764.5" r="2.3" fill="#d84bd8"/>
<circle cx="125.9" cy="766.2" r="2.3" fill="#d84bd8"/>
<circle cx="134.7" cy="756.6" r="2.3" fill="#d84bd8"/>
<circle cx="141.0" cy="756.6" r="2.3" fill="#d84bd8"/>
<circle cx="149.7" cy="744.7" r="2.3" fill="#d84bd8"/>
<circle cx="156.6" cy="744.0" r="2.3" fill="#d84bd8"/>
<circle cx="165.0" cy="737.7" r="2.3" fill="#d84bd8"/>
<circle cx="171.4" cy="734.1" r="2.3" fill="#d84bd8"/>
<circle cx="180.2" cy="705.4" r="2.3" fill="#d84bd8"/>
<circle cx="186.9" cy="691.8" r="2.3" fill="#d84bd8"/>
<circle cx="195.6" cy="706.1" r="2.3" fill="#d84bd8"/>
<circle cx="200.6" cy="687.2" r="2.3" fill="#d84bd8"/>
<circle cx="208.9" cy="682.5" r="2.3" fill="#d84bd8"/>
<polyline points="61.5,783.0 88.4,782.0 97.0,780.2 103.7,776.7 110.3,775.8 119.4,767.1 125.9,770.1 134.7,765.0 141.0,765.0 149.7,756.6 156.6,760.6 165.0,753.1 171.4,754.5 180.2,742.2 186.9,737.0 195.6,732.2 200.6,733.0 208.9,733.0 215.8,728.0 224.7,724.2 231.1,724.7 240.0,721.1 248.9,724.7 257.2,721.4 264.2,715.6 272.8,706.1 279.7,715.0 283.6,716.4 292.2,697.8 298.9,695.6 305.8,678.9 312.2,669.2" fill="none" stroke="#3054a0" stroke-width="1.4" stroke-linejoin="round"/>
<circle cx="61.5" cy="783.0" r="2.3" fill="#3054a0"/>
<circle cx="88.4" cy="782.0" r="2.3" fill="#3054a0"/>
<circle cx="97.0" cy="780.2" r="2.3" fill="#3054a0"/>
<circle cx="103.7" cy="776.7" r="2.3" fill="#3054a0"/>
<circle cx="110.3" cy="775.8" r="2.3" fill="#3054a0"/>
<circle cx="119.4" cy="767.1" r="2.3" fill="#3054a0"/>
<circle cx="125.9" cy="770.1" r="2.3" fill="#3054a0"/>
<circle cx="134.7" cy="765.0" r="2.3" fill="#3054a0"/>
<circle cx="141.0" cy="765.0" r="2.3" fill="#3054a0"/>
<circle cx="149.7" cy="756.6" r="2.3" fill="#3054a0"/>
<circle cx="156.6" cy="760.6" r="2.3" fill="#3054a0"/>
<circle cx="165.0" cy="753.1" r="2.3" fill="#3054a0"/>
<circle cx="171.4" cy="754.5" r="2.3" fill="#3054a0"/>
<circle cx="180.2" cy="742.2" r="2.3" fill="#3054a0"/>
<circle cx="186.9" cy="737.0" r="2.3" fill="#3054a0"/>
<circle cx="195.6" cy="732.2" r="2.3" fill="#3054a0"/>
<circle cx="200.6" cy="733.0" r="2.3" fill="#3054a0"/>
<circle cx="208.9" cy="733.0" r="2.3" fill="#3054a0"/>
<circle cx="215.8" cy="728.0" r="2.3" fill="#3054a0"/>
<circle cx="224.7" cy="724.2" r="2.3" fill="#3054a0"/>
<circle cx="231.1" cy="724.7" r="2.3" fill="#3054a0"/>
<circle cx="240.0" cy="721.1" r="2.3" fill="#3054a0"/>
<circle cx="248.9" cy="724.7" r="2.3" fill="#3054a0"/>
<circle cx="257.2" cy="721.4" r="2.3" fill="#3054a0"/>
<circle cx="264.2" cy="715.6" r="2.3" fill="#3054a0"/>
<circle cx="272.8" cy="706.1" r="2.3" fill="#3054a0"/>
<circle cx="279.7" cy="715.0" r="2.3" fill="#3054a0"/>
<circle cx="283.6" cy="716.4" r="2.3" fill="#3054a0"/>
<circle cx="292.2" cy="697.8" r="2.3" fill="#3054a0"/>
<circle cx="298.9" cy="695.6" r="2.3" fill="#3054a0"/>
<circle cx="305.8" cy="678.9" r="2.3" fill="#3054a0"/>
<circle cx="312.2" cy="669.2" r="2.3" fill="#3054a0"/>
<line x1="74.80" y1="632.40" x2="97.00" y2="632.40" stroke="#000" stroke-width="1.4" />
<circle cx="85.9" cy="632.4" r="2.2" fill="#000"/>
<text x="100.0" y="636.2" font-size="10.5" text-anchor="start" font-weight="bold" fill="#000" >Vehicle</text>
<line x1="74.80" y1="645.00" x2="97.00" y2="645.00" stroke="#d84bd8" stroke-width="1.4" />
<circle cx="85.9" cy="645.0" r="2.2" fill="#d84bd8"/>
<text x="100.0" y="648.8" font-size="10.5" text-anchor="start" font-weight="bold" fill="#000" >Osim</text>
<line x1="74.80" y1="659.00" x2="97.00" y2="659.00" stroke="#1fb45a" stroke-width="1.4" />
<circle cx="85.9" cy="659.0" r="2.2" fill="#1fb45a"/>
<text x="100.0" y="662.8" font-size="10.5" text-anchor="start" font-weight="bold" fill="#000" >Soraf</text>
<line x1="74.80" y1="673.00" x2="97.00" y2="673.00" stroke="#3054a0" stroke-width="1.4" />
<circle cx="85.9" cy="673.0" r="2.2" fill="#3054a0"/>
<text x="100.0" y="676.8" font-size="10.5" text-anchor="start" font-weight="bold" fill="#000" >Combo</text>
<text x="224.7" y="685.3" font-size="10.6" font-weight="bold">p=4.5 x 10<tspan font-size="7.2" dy="-4">-5</tspan></text>
<text x="331.1" y="601.9" font-size="11.5" text-anchor="start" font-weight="bold" fill="#000" >F</text>
<line x1="376.30" y1="615.70" x2="376.30" y2="782.70" stroke="#444" stroke-width="1.1" />
<line x1="376.30" y1="782.70" x2="683.50" y2="782.70" stroke="#444" stroke-width="1.1" />
<line x1="372.80" y1="782.70" x2="376.30" y2="782.70" stroke="#444" stroke-width="1" />
<text x="366.8" y="786.4" font-size="10.6" text-anchor="end" font-weight="bold" fill="#000" >0.0</text>
<line x1="372.80" y1="750.86" x2="376.30" y2="750.86" stroke="#444" stroke-width="1" />
<text x="366.8" y="754.6" font-size="10.6" text-anchor="end" font-weight="bold" fill="#000" >0.2</text>
<line x1="372.80" y1="719.02" x2="376.30" y2="719.02" stroke="#444" stroke-width="1" />
<text x="366.8" y="722.7" font-size="10.6" text-anchor="end" font-weight="bold" fill="#000" >0.4</text>
<line x1="372.80" y1="687.18" x2="376.30" y2="687.18" stroke="#444" stroke-width="1" />
<text x="366.8" y="690.9" font-size="10.6" text-anchor="end" font-weight="bold" fill="#000" >0.6</text>
<line x1="372.80" y1="655.34" x2="376.30" y2="655.34" stroke="#444" stroke-width="1" />
<text x="366.8" y="659.0" font-size="10.6" text-anchor="end" font-weight="bold" fill="#000" >0.8</text>
<line x1="372.80" y1="623.50" x2="376.30" y2="623.50" stroke="#444" stroke-width="1" />
<text x="366.8" y="627.2" font-size="10.6" text-anchor="end" font-weight="bold" fill="#000" >1.0</text>
<line x1="376.30" y1="782.70" x2="376.30" y2="786.20" stroke="#444" stroke-width="1" />
<text x="377.7" y="798.9" font-size="10.6" text-anchor="middle" font-weight="bold" fill="#000" >0</text>
<line x1="402.10" y1="782.70" x2="402.10" y2="786.20" stroke="#444" stroke-width="1" />
<text x="403.5" y="798.9" font-size="10.6" text-anchor="middle" font-weight="bold" fill="#000" >10</text>
<line x1="427.90" y1="782.70" x2="427.90" y2="786.20" stroke="#444" stroke-width="1" />
<text x="429.3" y="798.9" font-size="10.6" text-anchor="middle" font-weight="bold" fill="#000" >20</text>
<line x1="453.70" y1="782.70" x2="453.70" y2="786.20" stroke="#444" stroke-width="1" />
<text x="455.1" y="798.9" font-size="10.6" text-anchor="middle" font-weight="bold" fill="#000" >30</text>
<line x1="479.50" y1="782.70" x2="479.50" y2="786.20" stroke="#444" stroke-width="1" />
<text x="480.9" y="798.9" font-size="10.6" text-anchor="middle" font-weight="bold" fill="#000" >40</text>
<line x1="505.30" y1="782.70" x2="505.30" y2="786.20" stroke="#444" stroke-width="1" />
<text x="506.7" y="798.9" font-size="10.6" text-anchor="middle" font-weight="bold" fill="#000" >50</text>
<line x1="531.10" y1="782.70" x2="531.10" y2="786.20" stroke="#444" stroke-width="1" />
<text x="532.5" y="798.9" font-size="10.6" text-anchor="middle" font-weight="bold" fill="#000" >60</text>
<line x1="556.90" y1="782.70" x2="556.90" y2="786.20" stroke="#444" stroke-width="1" />
<text x="558.2" y="798.9" font-size="10.6" text-anchor="middle" font-weight="bold" fill="#000" >70</text>
<line x1="582.70" y1="782.70" x2="582.70" y2="786.20" stroke="#444" stroke-width="1" />
<text x="584.1" y="798.9" font-size="10.6" text-anchor="middle" font-weight="bold" fill="#000" >80</text>
<line x1="608.50" y1="782.70" x2="608.50" y2="786.20" stroke="#444" stroke-width="1" />
<text x="609.9" y="798.9" font-size="10.6" text-anchor="middle" font-weight="bold" fill="#000" >90</text>
<line x1="634.30" y1="782.70" x2="634.30" y2="786.20" stroke="#444" stroke-width="1" />
<text x="635.6" y="798.9" font-size="10.6" text-anchor="middle" font-weight="bold" fill="#000" >100</text>
<line x1="660.10" y1="782.70" x2="660.10" y2="786.20" stroke="#444" stroke-width="1" />
<text x="661.5" y="798.9" font-size="10.6" text-anchor="middle" font-weight="bold" fill="#000" >110</text>
<text x="541.5" y="814.2" font-size="12" text-anchor="middle" font-weight="bold" fill="#000" >Days</text>
<text transform="translate(344.8,690) rotate(-90)" font-size="12.2" font-weight="bold" text-anchor="middle">Survival probability</text>
<polyline points="470.4,623.5 480.9,655.3 488.5,687.2 499.0,719.0 506.3,719.0 517.1,750.9 525.0,782.7" fill="none" stroke="#000" stroke-width="1.3" stroke-linejoin="round"/>
<circle cx="480.9" cy="655.3" r="2.3" fill="#000"/>
<circle cx="488.5" cy="687.2" r="2.3" fill="#000"/>
<circle cx="499.0" cy="719.0" r="2.3" fill="#000"/>
<circle cx="506.3" cy="719.0" r="2.3" fill="#000"/>
<circle cx="517.1" cy="750.9" r="2.3" fill="#000"/>
<circle cx="525.0" cy="782.7" r="2.3" fill="#000"/>
<polyline points="517.1,623.5 525.0,676.4 535.2,676.4 539.9,703.2 550.7,729.5 560.9,782.7" fill="none" stroke="#d84bd8" stroke-width="1.3" stroke-linejoin="round"/>
<circle cx="525.0" cy="676.4" r="2.3" fill="#d84bd8"/>
<circle cx="535.2" cy="676.4" r="2.3" fill="#d84bd8"/>
<circle cx="539.9" cy="703.2" r="2.3" fill="#d84bd8"/>
<circle cx="550.7" cy="729.5" r="2.3" fill="#d84bd8"/>
<circle cx="560.9" cy="782.7" r="2.3" fill="#d84bd8"/>
<polyline points="506.3,623.5 517.1,649.8 525.0,676.4 535.2,756.1 539.9,756.1 550.7,756.1 560.9,756.1 568.8,782.7" fill="none" stroke="#1fb45a" stroke-width="1.3" stroke-linejoin="round"/>
<circle cx="517.1" cy="649.8" r="2.3" fill="#1fb45a"/>
<circle cx="525.0" cy="676.4" r="2.3" fill="#1fb45a"/>
<circle cx="535.2" cy="756.1" r="2.3" fill="#1fb45a"/>
<circle cx="539.9" cy="756.1" r="2.3" fill="#1fb45a"/>
<circle cx="550.7" cy="756.1" r="2.3" fill="#1fb45a"/>
<circle cx="560.9" cy="756.1" r="2.3" fill="#1fb45a"/>
<circle cx="568.8" cy="782.7" r="2.3" fill="#1fb45a"/>
<polyline points="376.9,623.5 408.5,623.5 418.7,623.5 426.6,623.5 433.9,623.5 444.7,623.5 452.3,623.5 462.8,623.5 470.4,623.5 480.9,623.5 488.5,623.5 499.0,623.5 506.3,623.5 517.1,623.5 525.0,623.5 535.2,623.5 539.9,623.5 550.7,623.5 560.9,623.5 568.8,634.0 576.4,634.0 586.6,656.8 596.8,656.8 607.0,668.5 614.9,668.5 625.1,702.7 633.0,702.7 638.3,702.7 643.5,702.7 648.5,729.2 656.4,729.2 664.0,742.7 671.9,755.8 682.1,782.7" fill="none" stroke="#3054a0" stroke-width="1.3" stroke-linejoin="round"/>
<circle cx="376.9" cy="623.5" r="2.3" fill="#3054a0"/>
<circle cx="408.5" cy="623.5" r="2.3" fill="#3054a0"/>
<circle cx="418.7" cy="623.5" r="2.3" fill="#3054a0"/>
<circle cx="426.6" cy="623.5" r="2.3" fill="#3054a0"/>
<circle cx="433.9" cy="623.5" r="2.3" fill="#3054a0"/>
<circle cx="444.7" cy="623.5" r="2.3" fill="#3054a0"/>
<circle cx="452.3" cy="623.5" r="2.3" fill="#3054a0"/>
<circle cx="462.8" cy="623.5" r="2.3" fill="#3054a0"/>
<circle cx="470.4" cy="623.5" r="2.3" fill="#3054a0"/>
<circle cx="480.9" cy="623.5" r="2.3" fill="#3054a0"/>
<circle cx="488.5" cy="623.5" r="2.3" fill="#3054a0"/>
<circle cx="499.0" cy="623.5" r="2.3" fill="#3054a0"/>
<circle cx="506.3" cy="623.5" r="2.3" fill="#3054a0"/>
<circle cx="517.1" cy="623.5" r="2.3" fill="#3054a0"/>
<circle cx="525.0" cy="623.5" r="2.3" fill="#3054a0"/>
<circle cx="535.2" cy="623.5" r="2.3" fill="#3054a0"/>
<circle cx="539.9" cy="623.5" r="2.3" fill="#3054a0"/>
<circle cx="550.7" cy="623.5" r="2.3" fill="#3054a0"/>
<circle cx="560.9" cy="623.5" r="2.3" fill="#3054a0"/>
<circle cx="568.8" cy="634.0" r="2.3" fill="#3054a0"/>
<circle cx="576.4" cy="634.0" r="2.3" fill="#3054a0"/>
<circle cx="586.6" cy="656.8" r="2.3" fill="#3054a0"/>
<circle cx="596.8" cy="656.8" r="2.3" fill="#3054a0"/>
<circle cx="607.0" cy="668.5" r="2.3" fill="#3054a0"/>
<circle cx="614.9" cy="668.5" r="2.3" fill="#3054a0"/>
<circle cx="625.1" cy="702.7" r="2.3" fill="#3054a0"/>
<circle cx="633.0" cy="702.7" r="2.3" fill="#3054a0"/>
<circle cx="638.3" cy="702.7" r="2.3" fill="#3054a0"/>
<circle cx="643.5" cy="702.7" r="2.3" fill="#3054a0"/>
<circle cx="648.5" cy="729.2" r="2.3" fill="#3054a0"/>
<circle cx="656.4" cy="729.2" r="2.3" fill="#3054a0"/>
<circle cx="664.0" cy="742.7" r="2.3" fill="#3054a0"/>
<circle cx="671.9" cy="755.8" r="2.3" fill="#3054a0"/>
<circle cx="682.1" cy="782.7" r="2.3" fill="#3054a0"/>
<text x="549.8" y="685.7" font-size="10.6" font-weight="bold">p=5 x 10<tspan font-size="7.2" dy="-4">-15</tspan></text>
</svg>
</body></html>
